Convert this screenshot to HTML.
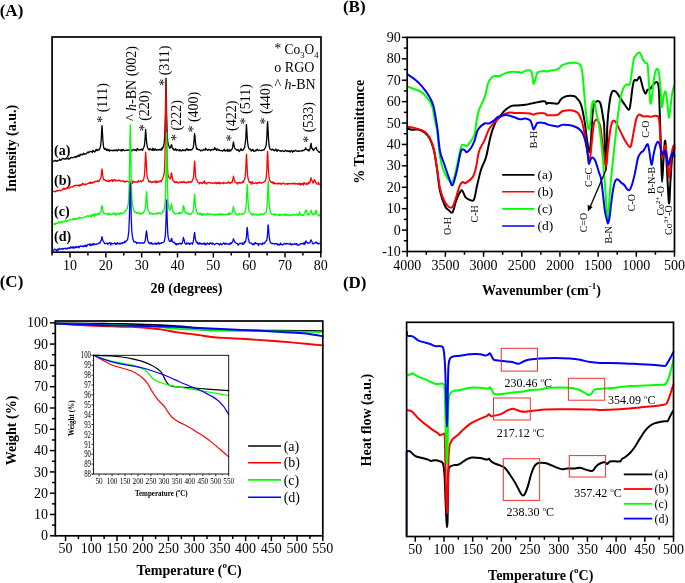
<!DOCTYPE html>
<html><head><meta charset="utf-8"><style>
html,body{margin:0;padding:0;background:#fff;width:685px;height:583px;overflow:hidden;font-family:"Liberation Serif", serif;}
svg{display:block;will-change:transform;}
</style></head><body>
<svg width="685" height="583" viewBox="0 0 685 583" font-family="'Liberation Serif', serif">
<rect width="685" height="583" fill="#fff"/>
<text x="-0.30" y="15.60" font-size="17" font-weight="bold" text-anchor="start" fill="#000">(A)</text>
<text x="342.90" y="12.00" font-size="17" font-weight="bold" text-anchor="start" fill="#000">(B)</text>
<text x="-0.30" y="287.30" font-size="17" font-weight="bold" text-anchor="start" fill="#000">(C)</text>
<text x="342.90" y="288.40" font-size="17" font-weight="bold" text-anchor="start" fill="#000">(D)</text>
<polyline points="52.60,161.23 53.20,161.53 53.80,161.01 54.40,160.84 55.00,160.38 55.60,160.65 56.20,161.26 56.80,160.76 57.40,160.98 58.00,160.43 58.60,160.39 59.20,160.15 59.80,159.01 60.40,160.28 61.00,159.97 61.60,159.84 62.20,158.52 62.80,158.39 63.40,158.75 64.00,158.87 64.60,159.19 65.20,158.89 65.80,159.10 66.40,158.35 67.00,158.77 67.60,158.71 68.20,158.02 68.80,159.22 69.40,158.48 70.00,158.72 70.60,157.62 71.20,157.45 71.80,157.56 72.40,157.58 73.00,157.88 73.60,157.56 74.20,157.07 74.80,156.69 75.40,156.75 76.00,157.49 76.60,156.16 77.20,156.53 77.80,156.42 78.40,155.15 79.00,155.78 79.60,156.26 80.20,154.22 80.80,154.94 81.40,154.84 82.00,154.23 82.60,154.74 83.20,154.22 83.80,153.23 84.40,154.28 85.00,153.98 85.60,153.91 86.20,153.97 86.80,153.16 87.40,152.81 88.00,151.81 88.60,152.76 89.20,151.97 89.80,151.95 90.40,151.39 91.00,151.44 91.60,151.56 92.20,152.45 92.80,150.50 93.40,150.69 94.00,151.49 94.60,152.02 95.20,151.40 95.80,149.88 96.40,149.37 97.00,150.75 97.60,149.91 98.20,149.39 98.80,150.12 99.40,149.59 100.00,148.02 100.60,145.79 101.20,140.03 101.65,131.50 101.80,127.85 102.00,125.62 102.35,130.89 102.40,132.06 103.00,141.51 103.60,147.27 104.20,148.79 104.80,149.37 105.40,148.44 106.00,149.43 106.60,150.41 107.20,149.06 107.80,150.02 108.40,150.73 109.00,149.49 109.60,151.12 110.20,150.55 110.80,150.17 111.40,150.44 112.00,150.62 112.60,150.33 113.20,150.89 113.80,149.89 114.40,150.02 115.00,150.82 115.60,150.25 116.20,149.74 116.80,150.74 117.40,151.01 118.00,149.95 118.60,149.42 119.20,150.10 119.80,150.08 120.40,149.98 121.00,150.91 121.60,149.56 122.20,150.80 122.80,149.40 123.40,149.65 124.00,150.42 124.60,150.68 125.20,150.51 125.80,150.22 126.40,150.09 127.00,150.08 127.60,150.30 128.20,149.87 128.80,150.10 129.40,150.25 130.00,149.92 130.60,150.34 131.20,150.23 131.80,151.02 132.40,150.09 133.00,149.68 133.60,149.70 134.20,149.90 134.80,150.40 135.40,149.70 136.00,150.09 136.60,150.88 137.20,148.44 137.80,149.22 138.40,149.94 139.00,150.00 139.60,149.87 140.20,149.44 140.80,149.96 141.40,149.64 142.00,149.03 142.60,150.38 143.20,148.77 143.80,147.36 144.40,145.55 145.00,140.12 145.35,134.36 145.60,129.38 145.70,130.49 146.05,134.12 146.20,137.63 146.80,143.72 147.40,147.12 148.00,148.85 148.60,149.38 149.20,150.05 149.80,148.48 150.40,149.35 151.00,149.44 151.60,150.03 152.20,150.32 152.80,148.27 153.40,150.36 154.00,148.97 154.60,150.15 155.20,148.94 155.80,149.85 156.40,150.39 157.00,149.62 157.60,149.77 158.20,150.05 158.80,149.62 159.40,149.41 160.00,150.18 160.60,149.76 161.20,148.79 161.80,150.13 162.40,147.49 163.00,147.80 163.60,145.68 164.20,142.93 164.80,136.04 165.40,114.16 165.65,96.67 166.00,78.03 166.35,95.46 166.60,113.18 167.20,135.92 167.80,142.20 168.40,145.05 169.00,146.14 169.60,148.21 170.20,147.88 170.80,147.30 171.15,144.89 171.40,144.84 171.50,144.80 171.85,145.00 172.00,146.62 172.60,148.88 173.20,148.35 173.80,150.11 174.40,150.02 175.00,149.52 175.60,148.63 176.20,150.56 176.80,149.79 177.40,149.56 178.00,150.14 178.60,150.18 179.20,150.80 179.80,149.43 180.40,150.63 181.00,150.84 181.60,150.83 182.20,149.94 182.80,149.64 183.40,150.61 184.00,150.12 184.60,150.13 185.20,150.84 185.80,149.91 186.40,148.78 187.00,149.82 187.60,148.99 188.20,150.44 188.80,150.13 189.40,149.56 190.00,149.82 190.60,150.17 191.20,149.58 191.80,149.97 192.40,148.67 193.00,148.14 193.60,145.62 194.20,138.68 194.25,136.66 194.60,133.73 194.80,135.46 194.95,136.00 195.40,142.48 196.00,145.86 196.60,149.03 197.20,148.45 197.80,149.48 198.40,149.60 199.00,149.82 199.60,149.60 200.20,150.12 200.80,151.02 201.40,150.08 202.00,150.37 202.60,150.63 203.20,149.95 203.80,149.32 204.40,149.60 205.00,150.22 205.60,148.12 205.65,148.64 206.00,148.73 206.20,149.38 206.35,149.41 206.80,149.50 207.40,150.32 208.00,150.13 208.60,149.47 209.20,149.31 209.80,149.84 210.40,150.71 211.00,149.89 211.60,149.70 212.20,149.74 212.80,149.27 213.40,149.93 214.00,149.07 214.60,149.31 214.65,147.75 215.00,148.81 215.20,149.08 215.35,148.70 215.80,148.50 216.40,150.35 217.00,149.96 217.60,148.97 218.20,149.76 218.80,150.42 219.40,150.03 220.00,150.72 220.60,150.71 221.20,150.67 221.80,150.49 222.40,151.05 223.00,150.68 223.60,150.56 224.20,149.17 224.80,150.80 225.40,151.02 226.00,150.13 226.60,150.03 227.20,151.34 227.80,149.28 228.40,150.47 229.00,151.51 229.60,149.60 230.20,150.39 230.80,150.88 231.40,149.46 232.00,149.16 232.60,147.66 233.15,143.07 233.20,143.14 233.50,141.86 233.80,143.34 233.85,144.02 234.40,147.13 235.00,148.72 235.60,148.93 236.20,149.60 236.80,150.44 237.40,150.09 238.00,149.61 238.60,149.64 239.20,151.57 239.80,150.71 240.40,150.39 241.00,148.56 241.60,150.23 242.20,150.02 242.80,150.46 243.40,149.42 244.00,148.52 244.60,147.64 245.20,143.55 245.80,138.04 246.15,129.85 246.40,124.61 246.50,124.47 246.85,130.40 247.00,134.26 247.60,142.22 248.20,146.35 248.80,148.44 249.40,149.16 250.00,149.27 250.60,149.22 251.20,151.10 251.80,150.62 252.40,149.48 253.00,149.46 253.60,151.18 254.20,150.82 254.80,151.31 255.40,150.77 256.00,149.86 256.60,150.49 257.20,149.16 257.80,149.94 258.40,150.31 259.00,150.62 259.60,149.92 260.20,150.22 260.80,150.50 261.40,150.41 262.00,150.48 262.60,150.14 263.20,149.69 263.80,150.08 264.40,149.31 265.00,148.20 265.60,147.11 266.20,144.82 266.80,137.99 267.25,127.52 267.40,123.82 267.60,121.64 267.95,127.54 268.00,128.70 268.60,140.42 269.20,146.22 269.80,148.57 270.40,149.19 271.00,149.38 271.60,150.05 272.20,149.49 272.80,149.12 273.40,150.30 274.00,149.83 274.60,150.81 275.20,149.86 275.80,149.05 276.40,149.95 277.00,151.42 277.60,150.36 278.20,149.84 278.80,150.19 279.40,150.91 280.00,150.91 280.60,150.75 281.20,151.48 281.80,151.06 282.40,150.67 283.00,151.02 283.60,151.61 284.20,151.24 284.80,151.28 285.40,150.13 286.00,150.65 286.60,151.14 287.20,150.58 287.80,151.33 288.40,151.08 289.00,151.26 289.60,150.64 290.20,152.17 290.80,151.45 291.40,150.66 292.00,150.83 292.60,152.21 293.20,150.60 293.80,151.27 294.40,151.33 295.00,150.80 295.60,150.16 296.20,150.90 296.80,151.00 297.40,151.42 298.00,151.23 298.60,150.81 299.20,151.27 299.80,151.09 300.40,150.90 301.00,150.81 301.60,150.63 302.20,151.12 302.80,150.12 303.40,150.30 304.00,150.54 304.60,149.50 305.20,149.54 305.65,147.98 305.80,148.50 306.00,148.75 306.35,149.37 306.40,149.44 307.00,149.87 307.60,150.08 308.20,149.47 308.80,151.10 309.40,149.94 310.00,149.10 310.60,145.05 310.65,145.11 311.00,143.82 311.20,143.34 311.35,145.64 311.80,148.28 312.40,148.34 313.00,149.94 313.60,150.51 314.20,149.16 314.80,148.79 315.40,148.28 315.65,147.94 316.00,147.83 316.35,147.56 316.60,148.96 317.20,150.10 317.80,150.76 318.40,151.27 319.00,152.22 319.60,152.50 320.20,151.58" fill="none" stroke="#000000" stroke-width="1.3" stroke-linejoin="round" stroke-linecap="round"/>
<polyline points="52.60,191.88 53.20,191.43 53.80,191.29 54.40,191.69 55.00,191.60 55.60,191.73 56.20,190.45 56.80,190.51 57.40,191.04 58.00,190.80 58.60,190.60 59.20,190.60 59.80,190.08 60.40,190.74 61.00,190.41 61.60,190.03 62.20,189.56 62.80,189.65 63.40,188.06 64.00,188.83 64.60,189.21 65.20,188.18 65.80,188.93 66.40,188.71 67.00,187.69 67.60,188.13 68.20,187.91 68.80,188.15 69.40,188.05 70.00,187.50 70.60,186.87 71.20,187.07 71.80,186.93 72.40,187.19 73.00,186.76 73.60,186.02 74.20,185.48 74.80,185.84 75.40,185.49 76.00,185.16 76.60,185.58 77.20,185.25 77.80,185.45 78.40,185.56 79.00,184.92 79.60,186.30 80.20,184.72 80.80,185.37 81.40,184.71 82.00,185.13 82.60,183.08 83.20,183.85 83.80,184.27 84.40,184.34 85.00,185.17 85.60,183.94 86.20,184.33 86.80,183.93 87.40,183.90 88.00,183.53 88.60,183.03 89.20,183.27 89.80,182.27 90.40,183.38 91.00,182.04 91.60,182.61 92.20,183.51 92.80,182.08 93.40,182.08 94.00,182.57 94.60,181.81 95.20,181.21 95.80,181.64 96.40,181.66 97.00,181.56 97.60,180.55 98.20,181.72 98.80,181.39 99.40,180.17 100.00,179.79 100.60,178.30 101.20,176.49 101.65,170.91 101.80,170.17 102.00,168.89 102.35,171.01 102.40,171.45 103.00,177.30 103.60,179.64 104.20,179.71 104.80,179.72 105.40,180.74 106.00,180.37 106.60,180.64 107.20,181.34 107.80,181.15 108.40,180.25 109.00,181.80 109.60,180.54 110.20,180.97 110.80,180.17 111.40,180.49 112.00,179.54 112.60,181.48 113.20,181.23 113.80,179.80 114.40,179.62 115.00,179.54 115.60,181.14 116.20,180.30 116.80,180.58 117.40,180.50 118.00,180.67 118.60,180.20 119.20,180.87 119.80,180.13 120.40,180.94 121.00,181.21 121.60,181.35 122.20,181.03 122.80,180.72 123.40,181.36 124.00,181.06 124.60,182.25 125.20,181.87 125.80,181.44 126.40,181.30 127.00,181.23 127.60,181.16 128.20,181.54 128.80,181.95 129.40,182.13 130.00,182.21 130.60,183.06 131.20,181.52 131.80,181.92 132.40,183.45 133.00,180.89 133.60,181.63 134.20,182.00 134.80,181.99 135.40,182.13 136.00,181.76 136.60,182.08 137.20,181.89 137.80,182.26 138.40,180.77 139.00,181.28 139.60,181.70 140.20,181.06 140.80,180.94 141.40,181.69 142.00,180.73 142.60,181.02 143.20,180.37 143.80,178.73 144.40,175.69 145.00,167.10 145.35,157.38 145.60,152.74 145.70,152.16 146.05,158.41 146.20,162.01 146.80,173.47 147.40,178.23 148.00,179.15 148.60,180.88 149.20,182.05 149.80,181.02 150.40,181.61 151.00,181.58 151.60,182.60 152.20,181.99 152.80,182.36 153.40,181.52 154.00,181.91 154.60,181.93 155.20,180.95 155.80,182.71 156.40,182.40 157.00,180.91 157.60,182.24 158.20,181.70 158.80,181.93 159.40,181.78 160.00,180.60 160.60,181.09 161.20,181.72 161.80,180.14 162.40,179.22 163.00,177.93 163.60,176.03 164.20,172.89 164.80,163.93 165.40,134.12 165.65,110.14 166.00,85.37 166.35,111.21 166.60,133.55 167.20,162.53 167.80,172.82 168.40,176.71 169.00,177.63 169.60,178.26 170.20,178.86 170.80,176.95 171.15,173.74 171.40,172.93 171.50,172.92 171.85,174.45 172.00,176.23 172.60,179.26 173.20,180.63 173.80,181.09 174.40,182.20 175.00,182.60 175.60,181.77 176.20,182.54 176.80,181.74 177.40,182.26 178.00,182.68 178.60,183.14 179.20,182.13 179.80,182.33 180.40,182.51 181.00,181.60 181.60,182.45 182.20,182.08 182.80,182.67 183.40,181.85 184.00,181.39 184.60,182.50 185.20,182.63 185.80,182.18 186.40,182.96 187.00,182.31 187.60,182.10 188.20,182.67 188.80,181.50 189.40,181.93 190.00,182.19 190.60,182.53 191.20,181.75 191.80,181.62 192.40,180.39 193.00,179.45 193.60,176.59 194.20,166.17 194.25,166.85 194.60,161.26 194.80,162.53 194.95,165.57 195.40,173.54 196.00,179.04 196.60,179.75 197.20,180.18 197.80,182.15 198.40,182.53 199.00,182.62 199.60,183.85 200.20,182.60 200.80,182.70 201.40,183.12 202.00,182.85 202.60,183.60 203.20,182.03 203.80,182.53 204.40,180.86 205.00,183.22 205.60,182.59 206.20,183.32 206.80,184.01 207.40,182.83 208.00,182.70 208.60,182.58 209.20,182.40 209.80,182.53 210.40,183.23 211.00,182.91 211.60,182.94 212.20,182.81 212.80,183.42 213.40,183.19 214.00,182.85 214.60,183.30 215.20,182.86 215.80,182.31 216.40,183.75 217.00,183.21 217.60,182.44 218.20,183.56 218.80,183.16 219.40,182.12 220.00,183.87 220.60,183.17 221.20,183.48 221.80,183.10 222.40,182.91 223.00,182.15 223.60,183.53 224.20,183.01 224.80,182.84 225.40,183.19 226.00,183.03 226.60,183.36 227.20,182.77 227.80,182.94 228.40,181.76 229.00,182.67 229.60,183.22 230.20,183.51 230.80,182.43 231.40,182.31 232.00,182.69 232.60,180.26 233.15,177.88 233.20,178.08 233.50,176.07 233.80,177.18 233.85,178.15 234.40,180.04 235.00,181.93 235.60,182.31 236.20,182.67 236.80,183.36 237.40,184.12 238.00,182.47 238.60,182.53 239.20,183.11 239.80,182.23 240.40,183.04 241.00,183.01 241.60,182.44 242.20,182.73 242.80,181.34 243.40,182.22 244.00,180.26 244.60,179.37 245.20,176.40 245.80,168.52 246.15,160.51 246.40,154.87 246.50,154.24 246.85,159.83 247.00,164.34 247.60,175.76 248.20,179.06 248.80,181.00 249.40,182.35 250.00,182.30 250.60,181.74 251.20,184.01 251.80,183.99 252.40,181.78 253.00,182.92 253.60,183.23 254.20,183.57 254.80,183.44 255.40,182.94 256.00,182.53 256.60,183.18 257.20,183.70 257.80,182.53 258.40,182.56 259.00,183.10 259.60,182.03 260.20,182.92 260.80,182.79 261.40,183.22 262.00,182.50 262.60,182.29 263.20,182.40 263.80,182.33 264.40,181.59 265.00,181.27 265.60,180.36 266.20,177.70 266.80,170.52 267.25,157.43 267.40,153.65 267.60,151.46 267.95,156.50 268.00,160.39 268.60,172.55 269.20,178.32 269.80,180.84 270.40,180.87 271.00,182.46 271.60,182.55 272.20,181.79 272.80,183.12 273.40,183.73 274.00,182.13 274.60,183.67 275.20,183.40 275.80,183.59 276.40,183.61 277.00,184.11 277.60,183.30 278.20,183.92 278.80,183.24 279.40,183.88 280.00,183.05 280.60,183.45 281.20,184.48 281.80,183.79 282.40,183.47 283.00,182.93 283.60,183.14 284.20,183.69 284.80,184.11 285.40,183.84 286.00,183.90 286.60,183.60 287.20,184.37 287.80,183.42 288.40,183.34 289.00,184.14 289.60,183.69 290.20,183.51 290.80,183.36 291.40,183.54 292.00,184.03 292.60,183.89 293.20,183.03 293.80,183.94 294.40,183.81 295.00,183.17 295.60,184.15 296.20,183.57 296.80,183.55 297.40,184.18 298.00,184.47 298.60,183.37 299.20,183.99 299.80,183.27 300.40,185.03 301.00,183.49 301.60,184.42 302.20,183.40 302.80,184.21 303.40,184.98 304.00,182.35 304.60,183.51 305.20,184.01 305.80,183.66 306.40,183.32 307.00,184.83 307.60,183.63 308.20,182.57 308.80,183.74 309.40,181.90 310.00,182.46 310.60,178.93 310.65,179.05 311.00,177.75 311.20,178.88 311.35,178.98 311.80,180.29 312.40,181.38 313.00,183.20 313.60,182.42 314.15,180.00 314.20,180.75 314.50,179.70 314.80,180.63 314.85,180.90 315.40,181.05 316.00,182.95 316.60,183.96 317.20,184.04 317.80,184.22 318.40,182.44 319.00,183.93 319.60,184.14 320.20,185.30" fill="none" stroke="#ff0000" stroke-width="1.3" stroke-linejoin="round" stroke-linecap="round"/>
<polyline points="52.60,223.81 53.20,224.00 53.80,224.05 54.40,224.37 55.00,223.49 55.60,224.21 56.20,223.00 56.80,223.43 57.40,222.84 58.00,223.07 58.60,222.45 59.20,221.80 59.80,223.13 60.40,222.55 61.00,221.92 61.60,222.19 62.20,222.48 62.80,221.26 63.40,221.60 64.00,221.81 64.60,221.67 65.20,221.06 65.80,219.94 66.40,221.65 67.00,221.00 67.60,220.69 68.20,220.39 68.80,220.55 69.40,220.03 70.00,219.56 70.60,219.58 71.20,219.52 71.80,219.37 72.40,218.94 73.00,219.78 73.60,218.57 74.20,219.52 74.80,218.46 75.40,219.09 76.00,219.53 76.60,218.77 77.20,218.14 77.80,218.45 78.40,218.39 79.00,217.24 79.60,217.75 80.20,218.05 80.80,217.59 81.40,217.77 82.00,218.02 82.60,217.92 83.20,217.88 83.80,217.59 84.40,216.99 85.00,217.02 85.60,216.76 86.20,216.62 86.80,216.58 87.40,215.61 88.00,216.26 88.60,216.31 89.20,215.67 89.80,216.07 90.40,216.25 91.00,215.76 91.60,216.87 92.20,214.17 92.80,215.37 93.40,214.36 94.00,215.78 94.60,216.57 95.20,213.60 95.80,214.91 96.40,214.99 97.00,214.39 97.60,214.69 98.20,212.97 98.80,214.45 99.40,213.88 100.00,213.21 100.60,212.10 101.20,210.78 101.65,207.04 101.80,206.37 102.00,205.61 102.35,207.02 102.40,206.46 103.00,211.28 103.60,212.83 104.20,213.71 104.80,213.09 105.40,213.70 106.00,214.14 106.60,213.93 107.20,214.57 107.80,215.00 108.40,213.42 109.00,212.87 109.60,214.40 110.20,214.77 110.80,214.43 111.40,214.36 112.00,213.56 112.60,213.50 113.20,214.37 113.80,213.37 114.40,212.86 115.00,213.29 115.60,215.18 116.20,214.85 116.80,213.39 117.40,213.33 118.00,213.83 118.60,213.25 119.20,214.34 119.80,213.52 120.40,212.91 121.00,214.16 121.60,213.03 122.20,213.37 122.80,213.11 123.40,212.78 124.00,212.92 124.60,212.09 125.20,211.08 125.80,210.35 126.40,210.09 127.00,209.17 127.60,207.56 128.20,203.91 128.80,196.44 129.40,177.52 129.95,140.40 130.00,136.81 130.30,124.92 130.60,136.03 130.65,140.74 131.20,177.71 131.80,196.40 132.40,203.77 133.00,207.43 133.60,210.04 134.20,210.72 134.80,211.88 135.40,212.30 136.00,212.46 136.60,213.32 137.20,212.47 137.80,212.73 138.40,212.58 139.00,212.66 139.60,214.00 140.20,214.13 140.80,213.17 141.40,213.44 142.00,213.70 142.60,213.36 143.20,213.35 143.80,211.57 144.40,211.12 145.00,210.00 145.60,206.20 146.15,196.17 146.20,194.65 146.50,191.72 146.80,194.94 146.85,195.76 147.40,204.97 148.00,210.63 148.60,211.20 149.20,212.37 149.80,213.98 150.40,213.71 151.00,213.40 151.60,212.99 152.20,213.63 152.80,214.34 153.40,213.83 154.00,214.20 154.60,213.57 155.20,213.81 155.80,213.41 156.40,213.74 157.00,214.19 157.60,212.66 158.20,213.37 158.80,213.48 159.40,212.95 160.00,213.00 160.60,213.47 161.20,213.96 161.80,212.95 162.40,212.42 163.00,210.82 163.60,211.80 164.20,209.13 164.80,205.73 165.40,197.02 166.00,173.29 166.25,152.77 166.60,132.79 166.95,153.38 167.20,173.51 167.80,197.50 168.40,205.63 169.00,208.14 169.60,210.65 170.20,209.54 170.80,207.13 171.15,205.72 171.40,204.01 171.50,204.31 171.85,205.61 172.00,207.20 172.60,210.92 173.20,211.47 173.80,212.66 174.40,213.86 175.00,213.65 175.60,213.33 176.20,213.58 176.80,213.51 177.40,213.59 178.00,214.05 178.60,213.60 179.20,212.32 179.80,213.59 180.40,213.02 181.00,213.70 181.60,212.65 182.20,212.24 182.80,211.16 183.15,206.99 183.40,205.52 183.50,205.98 183.85,206.80 184.00,207.37 184.60,210.65 185.20,213.03 185.80,212.95 186.40,212.51 187.00,212.84 187.60,214.06 188.20,213.32 188.80,213.54 189.40,213.89 190.00,214.39 190.60,214.59 191.20,213.89 191.80,213.06 192.40,212.43 193.00,211.96 193.60,208.41 194.20,198.96 194.25,198.46 194.60,194.22 194.80,195.89 194.95,198.25 195.40,205.28 196.00,209.51 196.60,211.78 197.20,212.06 197.80,214.03 198.40,213.92 199.00,213.13 199.60,214.68 200.20,214.48 200.80,213.01 201.40,215.12 202.00,214.59 202.60,215.31 203.20,213.53 203.80,214.52 204.40,214.48 205.00,214.38 205.60,214.38 206.20,214.88 206.80,213.49 207.40,213.64 208.00,213.57 208.60,214.04 209.20,214.02 209.80,214.57 210.40,214.52 211.00,214.40 211.60,214.02 212.20,214.15 212.80,214.93 213.40,214.83 214.00,214.47 214.60,214.25 215.20,215.28 215.80,214.11 216.40,214.80 217.00,215.08 217.60,214.31 218.20,214.91 218.80,213.85 219.40,215.02 220.00,214.58 220.60,213.60 221.20,214.84 221.80,213.98 222.40,215.18 223.00,214.10 223.60,214.39 224.20,214.63 224.80,214.29 225.40,214.61 226.00,214.15 226.60,214.81 227.20,214.43 227.80,214.52 228.40,212.85 229.00,214.96 229.60,214.26 230.20,213.14 230.80,213.98 231.40,213.82 232.00,213.39 232.60,210.45 233.15,208.71 233.20,207.47 233.50,206.57 233.80,208.88 233.85,207.78 234.40,211.41 235.00,212.59 235.60,212.93 236.20,214.51 236.80,214.60 237.40,215.06 238.00,214.75 238.60,213.99 239.20,213.41 239.80,213.96 240.40,213.92 241.00,213.80 241.60,214.50 242.20,214.26 242.80,213.78 243.40,213.79 244.00,213.24 244.60,212.79 245.20,211.85 245.80,209.25 246.40,201.34 246.85,189.90 247.00,187.78 247.20,184.74 247.55,190.80 247.60,192.73 248.20,203.97 248.80,209.75 249.40,212.01 250.00,212.20 250.60,213.26 251.20,214.27 251.80,214.68 252.40,215.11 253.00,213.86 253.60,213.65 254.20,214.76 254.80,215.03 255.40,214.66 256.00,213.86 256.60,215.02 257.20,215.04 257.80,214.91 258.40,214.34 259.00,214.77 259.60,215.03 260.20,214.26 260.80,213.53 261.40,214.68 262.00,214.70 262.60,214.36 263.20,214.72 263.80,213.74 264.40,213.75 265.00,213.20 265.60,212.94 266.20,212.10 266.80,208.00 267.40,201.34 267.85,188.60 268.00,183.96 268.20,180.96 268.55,188.09 268.60,190.31 269.20,203.69 269.80,209.46 270.40,211.28 271.00,213.25 271.60,214.36 272.20,214.29 272.80,214.48 273.40,214.31 274.00,214.63 274.60,213.85 275.20,215.28 275.80,214.54 276.40,214.20 277.00,214.43 277.60,214.42 278.20,215.38 278.80,215.51 279.40,214.20 280.00,215.48 280.60,215.47 281.20,214.68 281.80,214.20 282.40,214.62 283.00,214.69 283.60,215.24 284.20,214.86 284.80,213.95 285.40,215.21 286.00,214.24 286.60,215.59 287.20,214.44 287.80,214.73 288.40,214.65 289.00,214.82 289.60,215.84 290.20,215.60 290.80,215.47 291.40,215.32 292.00,214.29 292.60,214.86 293.20,214.84 293.80,214.61 294.40,215.42 295.00,214.73 295.60,214.73 296.20,214.53 296.80,213.94 297.40,215.34 298.00,215.64 298.60,214.78 299.20,213.64 299.65,212.00 299.80,213.38 300.00,213.16 300.35,214.14 300.40,213.71 301.00,214.85 301.60,215.50 302.20,215.42 302.80,214.56 303.40,215.29 304.00,214.90 304.60,213.10 305.20,212.45 305.65,210.19 305.80,210.40 306.00,210.16 306.35,211.26 306.40,210.55 307.00,212.02 307.60,214.75 308.20,214.54 308.80,215.15 309.40,213.30 310.00,213.73 310.60,212.27 310.65,212.04 311.00,210.14 311.20,210.32 311.35,211.09 311.80,212.54 312.40,214.41 313.00,214.89 313.60,214.48 314.20,213.51 314.80,214.05 315.40,211.78 315.65,211.41 316.00,210.29 316.35,211.25 316.60,213.01 317.20,214.43 317.80,214.30 318.40,215.08 319.00,216.04 319.60,214.89 320.20,215.49" fill="none" stroke="#00ff00" stroke-width="1.3" stroke-linejoin="round" stroke-linecap="round"/>
<polyline points="52.60,250.77 53.20,250.74 53.80,250.26 54.40,249.17 55.00,249.13 55.60,249.89 56.20,249.90 56.80,251.01 57.40,249.07 58.00,250.09 58.60,249.82 59.20,248.40 59.80,248.80 60.40,249.27 61.00,248.83 61.60,248.95 62.20,249.21 62.80,248.42 63.40,249.03 64.00,248.33 64.60,248.28 65.20,248.79 65.80,248.08 66.40,248.46 67.00,249.09 67.60,248.14 68.20,247.95 68.80,248.34 69.40,247.64 70.00,248.35 70.60,246.95 71.20,247.91 71.80,247.19 72.40,246.94 73.00,248.26 73.60,246.73 74.20,248.07 74.80,247.37 75.40,247.73 76.00,246.31 76.60,247.43 77.20,247.49 77.80,246.55 78.40,246.47 79.00,247.81 79.60,246.48 80.20,246.07 80.80,245.88 81.40,246.40 82.00,246.25 82.60,246.09 83.20,246.86 83.80,245.66 84.40,246.02 85.00,246.49 85.60,245.05 86.20,246.10 86.80,246.46 87.40,244.62 88.00,244.69 88.60,244.64 89.20,244.12 89.80,245.30 90.40,243.95 91.00,245.17 91.60,245.61 92.20,243.84 92.80,244.47 93.40,243.51 94.00,244.91 94.60,243.98 95.20,244.16 95.80,244.24 96.40,244.41 97.00,243.81 97.60,243.90 98.20,243.45 98.80,243.65 99.40,242.71 100.00,243.02 100.60,241.29 101.20,240.45 101.65,239.21 101.80,237.33 102.00,236.75 102.35,237.46 102.40,238.62 103.00,240.92 103.60,241.73 104.20,242.71 104.80,243.75 105.40,243.69 106.00,243.50 106.60,243.10 107.20,243.05 107.80,244.40 108.40,243.81 109.00,243.17 109.60,242.54 110.20,242.95 110.80,245.07 111.40,243.08 112.00,243.67 112.60,243.83 113.20,243.63 113.80,243.56 114.40,242.95 115.00,243.12 115.60,244.62 116.20,243.26 116.80,244.13 117.40,242.72 118.00,243.48 118.60,243.75 119.20,244.15 119.80,242.93 120.40,243.84 121.00,243.68 121.60,243.00 122.20,243.59 122.80,242.74 123.40,242.68 124.00,242.96 124.60,241.27 125.20,242.42 125.80,241.53 126.40,240.69 127.00,240.35 127.60,239.48 128.20,236.06 128.80,231.25 129.40,216.61 129.95,192.45 130.00,191.77 130.30,183.45 130.60,191.13 130.65,193.69 131.20,216.79 131.80,230.99 132.40,236.42 133.00,239.41 133.60,240.59 134.20,242.15 134.80,241.72 135.40,241.94 136.00,241.93 136.60,243.58 137.20,242.69 137.80,242.63 138.40,242.77 139.00,243.10 139.60,242.69 140.20,243.25 140.80,243.07 141.40,243.10 142.00,242.84 142.60,243.32 143.20,242.91 143.80,242.99 144.40,242.59 145.00,241.63 145.60,237.68 146.15,233.10 146.20,232.37 146.50,230.79 146.80,233.24 146.85,232.53 147.40,238.51 148.00,241.32 148.60,242.33 149.20,243.54 149.80,243.02 150.40,243.94 151.00,242.71 151.60,242.58 152.20,244.29 152.80,243.89 153.40,243.94 154.00,243.75 154.60,243.96 155.20,243.02 155.80,244.21 156.40,243.39 157.00,244.21 157.60,243.69 158.20,242.53 158.80,242.87 159.40,244.15 160.00,243.39 160.60,243.17 161.20,243.40 161.80,242.87 162.40,242.57 163.00,242.56 163.60,242.00 164.20,241.71 164.80,238.83 165.40,234.93 166.00,221.09 166.25,210.69 166.60,199.84 166.95,210.30 167.20,220.13 167.80,233.87 168.40,238.56 169.00,240.20 169.60,241.39 170.20,241.18 170.80,241.56 171.15,239.75 171.40,238.48 171.50,238.67 171.85,238.61 172.00,240.29 172.60,241.89 173.20,242.25 173.80,242.56 174.40,242.13 175.00,243.79 175.60,243.51 176.20,245.02 176.80,243.62 177.40,243.57 178.00,244.46 178.60,243.73 179.20,243.73 179.80,243.40 180.40,243.20 181.00,244.22 181.60,243.67 182.20,243.44 182.80,240.65 183.15,239.07 183.40,237.49 183.50,237.85 183.85,239.58 184.00,239.11 184.60,242.43 185.20,243.58 185.80,244.11 186.40,242.99 187.00,244.20 187.60,243.25 188.20,243.25 188.80,242.94 189.40,244.28 190.00,244.52 190.60,243.21 191.20,243.01 191.80,243.04 192.40,244.23 193.00,242.62 193.60,239.84 194.20,234.27 194.25,234.36 194.60,232.43 194.80,233.95 194.95,235.76 195.40,238.80 196.00,241.26 196.60,242.40 197.20,242.13 197.80,243.92 198.40,242.97 199.00,244.25 199.60,242.79 200.20,243.07 200.80,243.97 201.40,243.41 202.00,244.28 202.60,243.87 203.20,243.23 203.80,244.23 204.40,244.36 205.00,242.85 205.60,244.92 206.20,244.19 206.80,244.34 207.40,242.90 208.00,243.53 208.60,243.74 209.20,244.53 209.80,243.13 210.40,243.45 211.00,242.82 211.60,243.81 212.20,244.13 212.80,243.01 213.40,243.62 214.00,244.22 214.60,244.82 215.20,244.31 215.80,243.78 216.40,243.30 217.00,243.43 217.60,243.58 218.20,244.02 218.80,243.91 219.40,244.86 220.00,244.10 220.60,243.35 221.20,244.78 221.80,244.45 222.40,243.98 223.00,243.53 223.60,242.89 224.20,243.35 224.80,244.41 225.40,243.46 226.00,243.16 226.60,243.98 227.20,243.99 227.80,244.17 228.40,244.16 229.00,244.53 229.60,243.24 230.20,244.14 230.80,242.90 231.40,243.55 232.00,242.72 232.60,241.57 233.15,240.13 233.20,239.43 233.50,238.93 233.80,240.04 233.85,240.07 234.40,241.50 235.00,242.29 235.60,242.73 236.20,243.12 236.80,243.44 237.40,243.63 238.00,245.33 238.60,244.07 239.20,244.15 239.80,243.26 240.40,243.33 241.00,243.52 241.60,243.77 242.20,243.03 242.80,244.41 243.40,243.08 244.00,243.78 244.60,241.54 245.20,242.14 245.80,240.80 246.40,236.90 246.85,231.08 247.00,228.85 247.20,227.45 247.55,230.84 247.60,230.47 248.20,238.13 248.80,240.01 249.40,242.78 250.00,243.15 250.60,243.17 251.20,243.00 251.80,243.25 252.40,244.66 253.00,244.65 253.60,243.71 254.20,244.48 254.80,242.92 255.40,242.74 256.00,243.55 256.60,243.34 257.20,243.52 257.80,243.93 258.40,245.49 259.00,243.45 259.60,243.83 260.20,243.94 260.80,243.75 261.40,244.26 262.00,244.69 262.60,242.98 263.20,243.68 263.80,243.34 264.40,243.53 265.00,242.25 265.60,241.71 266.20,240.62 266.80,240.45 267.40,235.83 267.85,228.81 268.00,225.10 268.20,224.97 268.55,228.56 268.60,229.23 269.20,236.94 269.80,240.42 270.40,242.61 271.00,243.15 271.60,243.19 272.20,243.69 272.80,243.21 273.40,243.68 274.00,243.73 274.60,244.06 275.20,243.75 275.80,243.74 276.40,243.77 277.00,243.50 277.60,245.10 278.20,244.17 278.80,244.13 279.40,245.17 280.00,244.68 280.60,243.06 281.20,244.31 281.80,244.39 282.40,244.97 283.00,244.66 283.60,244.36 284.20,243.30 284.80,243.47 285.40,244.10 286.00,244.23 286.60,243.39 287.20,243.74 287.80,243.73 288.40,243.99 289.00,244.14 289.60,243.80 290.20,243.28 290.80,244.64 291.40,244.83 292.00,243.90 292.60,244.52 293.20,244.20 293.80,244.32 294.40,244.22 295.00,243.53 295.60,244.26 296.20,244.50 296.80,243.45 297.40,245.02 298.00,245.08 298.60,244.93 299.20,245.01 299.80,244.32 300.40,243.71 301.00,243.55 301.60,243.41 302.20,243.88 302.80,243.75 303.40,244.04 304.00,242.40 304.60,244.45 305.20,243.65 305.65,241.35 305.80,241.43 306.00,240.87 306.35,241.60 306.40,241.61 307.00,242.53 307.60,243.09 308.20,242.86 308.80,243.37 309.40,242.99 310.00,242.45 310.60,240.19 310.65,240.52 311.00,239.86 311.20,240.13 311.35,240.84 311.80,241.28 312.40,243.10 313.00,243.81 313.60,243.74 314.20,243.19 314.80,242.91 315.40,242.43 315.65,242.58 316.00,241.87 316.35,243.06 316.60,242.53 317.20,242.94 317.80,243.80 318.40,243.85 319.00,243.31 319.60,243.45 320.20,243.83" fill="none" stroke="#0000ff" stroke-width="1.3" stroke-linejoin="round" stroke-linecap="round"/>
<rect x="52.10" y="37.00" width="268.90" height="215.20" fill="none" stroke="#000" stroke-width="1.7"/>
<line x1="52.10" y1="252.20" x2="52.10" y2="255.50" stroke="#000" stroke-width="1.5" stroke-linecap="butt"/>
<line x1="70.02" y1="252.20" x2="70.02" y2="257.50" stroke="#000" stroke-width="1.5" stroke-linecap="butt"/>
<text x="70.02" y="270.00" font-size="14" text-anchor="middle" fill="#000">10</text>
<line x1="87.93" y1="252.20" x2="87.93" y2="255.50" stroke="#000" stroke-width="1.5" stroke-linecap="butt"/>
<line x1="105.84" y1="252.20" x2="105.84" y2="257.50" stroke="#000" stroke-width="1.5" stroke-linecap="butt"/>
<text x="105.84" y="270.00" font-size="14" text-anchor="middle" fill="#000">20</text>
<line x1="123.76" y1="252.20" x2="123.76" y2="255.50" stroke="#000" stroke-width="1.5" stroke-linecap="butt"/>
<line x1="141.68" y1="252.20" x2="141.68" y2="257.50" stroke="#000" stroke-width="1.5" stroke-linecap="butt"/>
<text x="141.68" y="270.00" font-size="14" text-anchor="middle" fill="#000">30</text>
<line x1="159.59" y1="252.20" x2="159.59" y2="255.50" stroke="#000" stroke-width="1.5" stroke-linecap="butt"/>
<line x1="177.50" y1="252.20" x2="177.50" y2="257.50" stroke="#000" stroke-width="1.5" stroke-linecap="butt"/>
<text x="177.50" y="270.00" font-size="14" text-anchor="middle" fill="#000">40</text>
<line x1="195.42" y1="252.20" x2="195.42" y2="255.50" stroke="#000" stroke-width="1.5" stroke-linecap="butt"/>
<line x1="213.34" y1="252.20" x2="213.34" y2="257.50" stroke="#000" stroke-width="1.5" stroke-linecap="butt"/>
<text x="213.34" y="270.00" font-size="14" text-anchor="middle" fill="#000">50</text>
<line x1="231.25" y1="252.20" x2="231.25" y2="255.50" stroke="#000" stroke-width="1.5" stroke-linecap="butt"/>
<line x1="249.16" y1="252.20" x2="249.16" y2="257.50" stroke="#000" stroke-width="1.5" stroke-linecap="butt"/>
<text x="249.16" y="270.00" font-size="14" text-anchor="middle" fill="#000">60</text>
<line x1="267.08" y1="252.20" x2="267.08" y2="255.50" stroke="#000" stroke-width="1.5" stroke-linecap="butt"/>
<line x1="285.00" y1="252.20" x2="285.00" y2="257.50" stroke="#000" stroke-width="1.5" stroke-linecap="butt"/>
<text x="285.00" y="270.00" font-size="14" text-anchor="middle" fill="#000">70</text>
<line x1="302.91" y1="252.20" x2="302.91" y2="255.50" stroke="#000" stroke-width="1.5" stroke-linecap="butt"/>
<line x1="320.83" y1="252.20" x2="320.83" y2="257.50" stroke="#000" stroke-width="1.5" stroke-linecap="butt"/>
<text x="320.83" y="270.00" font-size="14" text-anchor="middle" fill="#000">80</text>
<text x="186.50" y="292.80" font-size="14" font-weight="bold" text-anchor="middle" fill="#000">2θ (degrees)</text>
<text x="16.30" y="148.60" font-size="14" font-weight="bold" text-anchor="middle" fill="#000" transform="rotate(-90 16.3 148.6)">Intensity (a.u.)</text>
<text x="54.00" y="154.90" font-size="14" font-weight="bold" text-anchor="start" fill="#000">(a)</text>
<text x="54.00" y="185.00" font-size="14" font-weight="bold" text-anchor="start" fill="#000">(b)</text>
<text x="54.00" y="215.80" font-size="14" font-weight="bold" text-anchor="start" fill="#000">(c)</text>
<text x="54.00" y="241.30" font-size="14" font-weight="bold" text-anchor="start" fill="#000">(d)</text>
<text x="107.40" y="122.80" font-size="14" text-anchor="start" fill="#000" transform="rotate(-90 107.4 122.8)"><tspan dy="0">*</tspan><tspan dy="-0"> (111)</tspan></text>
<text x="135.50" y="121.00" font-size="14" text-anchor="start" fill="#000" transform="rotate(-90 135.5 121.0)">^ <tspan font-style="italic">h</tspan>-BN (002)</text>
<text x="149.30" y="131.30" font-size="14" text-anchor="start" fill="#000" transform="rotate(-90 149.3 131.3)"><tspan dy="0">*</tspan><tspan dy="-0"> (220)</tspan></text>
<text x="169.30" y="85.80" font-size="14" text-anchor="start" fill="#000" transform="rotate(-90 169.3 85.8)"><tspan dy="0">*</tspan><tspan dy="-0"> (311)</tspan></text>
<text x="181.20" y="141.00" font-size="14" text-anchor="start" fill="#000" transform="rotate(-90 181.2 141.0)"><tspan dy="0">*</tspan><tspan dy="-0"> (222)</tspan></text>
<text x="198.40" y="132.60" font-size="14" text-anchor="start" fill="#000" transform="rotate(-90 198.4 132.6)"><tspan dy="0">*</tspan><tspan dy="-0"> (400)</tspan></text>
<text x="236.20" y="141.40" font-size="14" text-anchor="start" fill="#000" transform="rotate(-90 236.2 141.4)"><tspan dy="0">*</tspan><tspan dy="-0"> (422)</tspan></text>
<text x="249.50" y="124.50" font-size="14" text-anchor="start" fill="#000" transform="rotate(-90 249.5 124.5)"><tspan dy="0">*</tspan><tspan dy="-0"> (511)</tspan></text>
<text x="269.70" y="124.50" font-size="14" text-anchor="start" fill="#000" transform="rotate(-90 269.7 124.5)"><tspan dy="0">*</tspan><tspan dy="-0"> (440)</tspan></text>
<text x="313.20" y="142.80" font-size="14" text-anchor="start" fill="#000" transform="rotate(-90 313.2 142.8)"><tspan dy="0">*</tspan><tspan dy="-0"> (533)</tspan></text>
<text x="274.50" y="53.60" font-size="14" text-anchor="start" fill="#000" textLength="44" lengthAdjust="spacingAndGlyphs"><tspan dy="-1">*</tspan><tspan dy="1"> Co</tspan><tspan font-size="9" dy="4.5">3</tspan><tspan dy="-4.5">O</tspan><tspan font-size="9" dy="4.5">4</tspan></text>
<text x="274.30" y="71.70" font-size="14" text-anchor="start" fill="#000">o RGO</text>
<text x="274.50" y="88.80" font-size="14" text-anchor="start" fill="#000">^ <tspan font-style="italic">h</tspan>-BN</text>
<path d="M407.50,128.50 C408.25,128.72 410.25,129.63 412.00,129.80 C413.75,129.97 415.92,129.05 418.00,129.50 C420.08,129.95 422.55,131.00 424.50,132.50 C426.45,134.00 428.15,135.58 429.70,138.50 C431.25,141.42 432.60,145.08 433.80,150.00 C435.00,154.92 435.87,161.17 436.90,168.00 C437.93,174.83 438.65,184.67 440.00,191.00 C441.35,197.33 443.58,202.83 445.00,206.00 C446.42,209.17 447.33,208.87 448.50,210.00 C449.67,211.13 451.08,213.05 452.00,212.80 C452.92,212.55 453.43,210.13 454.00,208.50 C454.57,206.87 454.65,205.25 455.40,203.00 C456.15,200.75 457.47,197.12 458.50,195.00 C459.53,192.88 460.77,190.63 461.60,190.30 C462.43,189.97 462.82,191.82 463.50,193.00 C464.18,194.18 464.62,196.23 465.70,197.40 C466.78,198.57 468.62,199.63 470.00,200.00 C471.38,200.37 472.83,201.93 474.00,199.60 C475.17,197.27 475.83,190.98 477.00,186.00 C478.17,181.02 479.50,174.48 481.00,169.70 C482.50,164.92 484.42,162.80 486.00,157.30 C487.58,151.80 488.92,142.53 490.50,136.70 C492.08,130.87 493.60,126.12 495.50,122.30 C497.40,118.48 500.32,115.80 501.90,113.80 C503.48,111.80 503.65,111.50 505.00,110.30 C506.35,109.10 508.33,107.40 510.00,106.60 C511.67,105.80 512.50,105.80 515.00,105.50 C517.50,105.20 522.50,105.08 525.00,104.80 C527.50,104.52 528.33,104.13 530.00,103.80 C531.67,103.47 533.33,103.15 535.00,102.80 C536.67,102.45 538.33,101.93 540.00,101.70 C541.67,101.47 543.92,101.05 545.00,101.40 C546.08,101.75 546.00,103.52 546.50,103.80 C547.00,104.08 546.58,103.15 548.00,103.10 C549.42,103.05 553.33,103.43 555.00,103.50 C556.67,103.57 557.00,104.22 558.00,103.50 C559.00,102.78 559.83,100.35 561.00,99.20 C562.17,98.05 563.50,97.18 565.00,96.60 C566.50,96.02 568.33,95.75 570.00,95.70 C571.67,95.65 573.67,95.63 575.00,96.30 C576.33,96.97 577.17,98.68 578.00,99.70 C578.83,100.72 579.33,101.03 580.00,102.40 C580.67,103.77 581.42,105.73 582.00,107.90 C582.58,110.07 583.00,112.72 583.50,115.40 C584.00,118.08 584.42,119.90 585.00,124.00 C585.58,128.10 586.28,135.33 587.00,140.00 C587.72,144.67 588.67,151.67 589.30,152.00 C589.93,152.33 590.40,146.00 590.80,142.00 C591.20,138.00 591.43,132.43 591.70,128.00 C591.97,123.57 592.12,118.87 592.40,115.40 C592.68,111.93 593.00,109.30 593.40,107.20 C593.80,105.10 594.10,103.83 594.80,102.80 C595.50,101.77 596.73,101.07 597.60,101.00 C598.47,100.93 599.43,101.60 600.00,102.40 C600.57,103.20 600.67,104.43 601.00,105.80 C601.33,107.17 601.67,108.65 602.00,110.60 C602.33,112.55 602.65,115.10 603.00,117.50 C603.35,119.90 603.77,119.58 604.10,125.00 C604.43,130.42 604.68,142.50 605.00,150.00 C605.32,157.50 605.70,170.00 606.00,170.00 C606.30,170.00 606.60,157.00 606.80,150.00 C607.00,143.00 606.97,134.00 607.20,128.00 C607.43,122.00 607.87,117.80 608.20,114.00 C608.53,110.20 608.87,107.82 609.20,105.20 C609.53,102.58 609.80,100.37 610.20,98.30 C610.60,96.23 611.08,94.07 611.60,92.80 C612.12,91.53 612.67,90.93 613.30,90.70 C613.93,90.47 614.77,91.00 615.40,91.40 C616.03,91.80 616.52,92.33 617.10,93.10 C617.68,93.87 618.08,94.75 618.90,96.00 C619.72,97.25 620.97,99.07 622.00,100.60 C623.03,102.13 623.95,103.65 625.10,105.20 C626.25,106.75 628.00,110.15 628.90,109.90 C629.80,109.65 629.98,106.80 630.50,103.70 C631.02,100.60 631.48,94.90 632.00,91.30 C632.52,87.70 633.08,84.03 633.60,82.10 C634.12,80.17 634.58,79.97 635.10,79.70 C635.62,79.43 635.93,81.00 636.70,80.50 C637.47,80.00 638.98,76.70 639.70,76.70 C640.42,76.70 640.45,78.58 641.00,80.50 C641.55,82.42 642.25,86.02 643.00,88.20 C643.75,90.38 644.75,93.33 645.50,93.60 C646.25,93.87 646.75,90.57 647.50,89.80 C648.25,89.03 649.08,89.78 650.00,89.00 C650.92,88.22 652.00,86.25 653.00,85.10 C654.00,83.95 655.17,82.35 656.00,82.10 C656.83,81.85 657.50,82.07 658.00,83.60 C658.50,85.13 658.70,86.15 659.00,91.30 C659.30,96.45 659.55,107.22 659.80,114.50 C660.05,121.78 660.27,127.42 660.50,135.00 C660.73,142.58 660.93,152.18 661.20,160.00 C661.47,167.82 661.72,181.90 662.10,181.90 C662.48,181.90 662.98,166.85 663.50,160.00 C664.02,153.15 664.62,139.13 665.20,140.80 C665.78,142.47 666.37,159.58 667.00,170.00 C667.63,180.42 668.42,201.63 669.00,203.30 C669.58,204.97 669.93,188.13 670.50,180.00 C671.07,171.87 671.73,159.90 672.40,154.50 C673.07,149.10 674.15,148.75 674.50,147.60" fill="none" stroke="#000000" stroke-width="2.0" stroke-linejoin="round" stroke-linecap="round"/>
<path d="M407.50,126.90 C408.80,127.10 412.47,127.32 415.30,128.10 C418.13,128.88 422.10,129.98 424.50,131.60 C426.90,133.22 428.15,134.88 429.70,137.80 C431.25,140.72 432.60,144.13 433.80,149.10 C435.00,154.07 435.87,161.08 436.90,167.60 C437.93,174.12 438.63,182.43 440.00,188.20 C441.37,193.97 443.17,198.97 445.10,202.20 C447.03,205.43 449.85,208.13 451.60,207.60 C453.35,207.07 454.28,202.58 455.60,199.00 C456.92,195.42 458.33,188.93 459.50,186.10 C460.67,183.27 461.57,182.52 462.60,182.00 C463.63,181.48 463.98,183.85 465.70,183.00 C467.42,182.15 471.18,179.47 472.90,176.90 C474.62,174.33 474.97,171.88 476.00,167.60 C477.03,163.32 477.73,155.65 479.10,151.20 C480.47,146.75 482.48,144.68 484.20,140.90 C485.92,137.12 487.52,131.77 489.40,128.50 C491.28,125.23 493.73,123.18 495.50,121.30 C497.27,119.42 498.42,118.45 500.00,117.20 C501.58,115.95 503.33,114.60 505.00,113.80 C506.67,113.00 508.33,112.53 510.00,112.40 C511.67,112.27 513.33,112.92 515.00,113.00 C516.67,113.08 517.50,112.83 520.00,112.90 C522.50,112.97 527.75,113.10 530.00,113.40 C532.25,113.70 532.33,114.70 533.50,114.70 C534.67,114.70 535.08,113.62 537.00,113.40 C538.92,113.18 543.33,113.10 545.00,113.40 C546.67,113.70 545.33,114.90 547.00,115.20 C548.67,115.50 553.17,115.30 555.00,115.20 C556.83,115.10 557.17,114.97 558.00,114.60 C558.83,114.23 559.17,113.60 560.00,113.00 C560.83,112.40 561.33,111.45 563.00,111.00 C564.67,110.55 568.00,110.27 570.00,110.30 C572.00,110.33 573.67,110.72 575.00,111.20 C576.33,111.68 577.15,112.27 578.00,113.20 C578.85,114.13 579.47,115.50 580.10,116.80 C580.73,118.10 581.32,119.47 581.80,121.00 C582.28,122.53 582.47,123.50 583.00,126.00 C583.53,128.50 584.33,132.17 585.00,136.00 C585.67,139.83 586.33,144.67 587.00,149.00 C587.67,153.33 588.42,161.00 589.00,162.00 C589.58,163.00 590.00,158.67 590.50,155.00 C591.00,151.33 591.45,145.17 592.00,140.00 C592.55,134.83 593.22,127.30 593.80,124.00 C594.38,120.70 594.93,120.83 595.50,120.20 C596.07,119.57 596.63,119.85 597.20,120.20 C597.77,120.55 598.33,121.00 598.90,122.30 C599.47,123.60 600.08,125.15 600.60,128.00 C601.12,130.85 601.43,134.93 602.00,139.40 C602.57,143.87 603.33,150.30 604.00,154.80 C604.67,159.30 605.33,167.43 606.00,166.40 C606.67,165.37 607.33,154.40 608.00,148.60 C608.67,142.80 609.33,135.97 610.00,131.60 C610.67,127.23 611.33,124.20 612.00,122.40 C612.67,120.60 613.33,120.78 614.00,120.80 C614.67,120.82 615.18,121.23 616.00,122.50 C616.82,123.77 617.90,126.38 618.90,128.40 C619.90,130.42 620.98,132.58 622.00,134.60 C623.02,136.62 623.67,138.40 625.00,140.50 C626.33,142.60 628.83,147.12 630.00,147.20 C631.17,147.28 631.28,144.13 632.00,141.00 C632.72,137.87 633.52,132.30 634.30,128.40 C635.08,124.50 635.80,119.92 636.70,117.60 C637.60,115.28 638.80,114.77 639.70,114.50 C640.60,114.23 641.22,115.68 642.10,116.00 C642.98,116.32 644.02,116.35 645.00,116.40 C645.98,116.45 647.00,116.23 648.00,116.30 C649.00,116.37 650.00,116.85 651.00,116.80 C652.00,116.75 653.00,116.13 654.00,116.00 C655.00,115.87 656.25,115.80 657.00,116.00 C657.75,116.20 658.08,115.92 658.50,117.20 C658.92,118.48 659.17,119.77 659.50,123.70 C659.83,127.63 660.17,135.95 660.50,140.80 C660.83,145.65 661.17,149.95 661.50,152.80 C661.83,155.65 662.08,158.47 662.50,157.90 C662.92,157.33 663.50,151.40 664.00,149.40 C664.50,147.40 665.00,144.77 665.50,145.90 C666.00,147.03 666.42,150.92 667.00,156.20 C667.58,161.48 668.33,177.32 669.00,177.60 C669.67,177.88 670.33,163.03 671.00,157.90 C671.67,152.77 672.42,148.93 673.00,146.80 C673.58,144.67 674.25,145.38 674.50,145.10" fill="none" stroke="#ff0000" stroke-width="2.0" stroke-linejoin="round" stroke-linecap="round"/>
<path d="M407.50,86.60 C408.65,87.03 411.95,88.20 414.40,89.20 C416.85,90.20 419.77,90.75 422.20,92.60 C424.63,94.45 427.30,97.87 429.00,100.30 C430.70,102.73 431.40,103.75 432.40,107.20 C433.40,110.65 434.23,117.20 435.00,121.00 C435.77,124.80 436.08,123.60 437.00,130.00 C437.92,136.40 439.00,151.77 440.50,159.40 C442.00,167.03 444.00,172.12 446.00,175.80 C448.00,179.48 450.67,183.20 452.50,181.50 C454.33,179.80 455.58,171.35 457.00,165.60 C458.42,159.85 459.83,150.43 461.00,147.00 C462.17,143.57 463.00,145.17 464.00,145.00 C465.00,144.83 465.83,146.68 467.00,146.00 C468.17,145.32 469.75,142.78 471.00,140.90 C472.25,139.02 473.67,137.35 474.50,134.70 C475.33,132.05 475.28,129.02 476.00,125.00 C476.72,120.98 477.33,115.28 478.80,110.60 C480.27,105.92 483.23,101.47 484.80,96.90 C486.37,92.33 486.92,86.57 488.20,83.20 C489.48,79.83 490.93,77.90 492.50,76.70 C494.07,75.50 496.33,76.12 497.60,76.00 C498.87,75.88 498.87,76.43 500.10,76.00 C501.33,75.57 503.02,74.12 505.00,73.40 C506.98,72.68 509.50,71.90 512.00,71.70 C514.50,71.50 518.42,71.98 520.00,72.20 C521.58,72.42 520.67,73.22 521.50,73.00 C522.33,72.78 523.58,71.32 525.00,70.90 C526.42,70.48 528.87,70.22 530.00,70.50 C531.13,70.78 531.20,70.40 531.80,72.60 C532.40,74.80 532.90,82.98 533.60,83.70 C534.30,84.42 535.27,78.82 536.00,76.90 C536.73,74.98 536.50,73.20 538.00,72.20 C539.50,71.20 543.58,70.98 545.00,70.90 C546.42,70.82 545.83,71.70 546.50,71.70 C547.17,71.70 547.58,71.18 549.00,70.90 C550.42,70.62 553.33,70.43 555.00,70.00 C556.67,69.57 557.83,69.07 559.00,68.30 C560.17,67.53 560.50,66.25 562.00,65.40 C563.50,64.55 565.83,63.63 568.00,63.20 C570.17,62.77 573.00,62.58 575.00,62.80 C577.00,63.02 578.83,63.30 580.00,64.50 C581.17,65.70 581.42,66.58 582.00,70.00 C582.58,73.42 582.92,78.67 583.50,85.00 C584.08,91.33 584.92,102.00 585.50,108.00 C586.08,114.00 586.45,117.42 587.00,121.00 C587.55,124.58 588.22,129.50 588.80,129.50 C589.38,129.50 590.05,124.48 590.50,121.00 C590.95,117.52 591.17,111.70 591.50,108.60 C591.83,105.50 592.15,103.67 592.50,102.40 C592.85,101.13 593.22,100.98 593.60,101.00 C593.98,101.02 594.40,100.90 594.80,102.50 C595.20,104.10 595.55,108.02 596.00,110.60 C596.45,113.18 597.00,115.60 597.50,118.00 C598.00,120.40 598.42,121.33 599.00,125.00 C599.58,128.67 600.33,134.17 601.00,140.00 C601.67,145.83 602.33,152.50 603.00,160.00 C603.67,167.50 604.25,175.17 605.00,185.00 C605.75,194.83 606.83,215.67 607.50,219.00 C608.17,222.33 608.50,210.67 609.00,205.00 C609.50,199.33 609.83,192.50 610.50,185.00 C611.17,177.50 612.08,168.83 613.00,160.00 C613.92,151.17 615.17,139.50 616.00,132.00 C616.83,124.50 617.33,120.17 618.00,115.00 C618.67,109.83 619.33,104.83 620.00,101.00 C620.67,97.17 621.28,94.38 622.00,92.00 C622.72,89.62 623.53,87.97 624.30,86.70 C625.07,85.43 625.70,84.78 626.60,84.40 C627.50,84.02 628.92,85.82 629.70,84.40 C630.48,82.98 630.78,79.12 631.30,75.90 C631.82,72.68 632.30,68.18 632.80,65.10 C633.30,62.02 633.78,58.95 634.30,57.40 C634.82,55.85 635.38,56.45 635.90,55.80 C636.42,55.15 636.78,54.02 637.40,53.50 C638.02,52.98 638.92,52.32 639.60,52.70 C640.28,53.08 640.93,54.63 641.50,55.80 C642.07,56.97 642.33,58.53 643.00,59.70 C643.67,60.87 644.75,62.03 645.50,62.80 C646.25,63.57 647.00,62.12 647.50,64.30 C648.00,66.48 648.17,71.40 648.50,75.90 C648.83,80.40 649.17,86.67 649.50,91.30 C649.83,95.93 650.08,102.92 650.50,103.70 C650.92,104.48 651.50,99.60 652.00,96.00 C652.50,92.40 652.92,86.22 653.50,82.10 C654.08,77.98 654.83,73.50 655.50,71.30 C656.17,69.10 656.92,68.65 657.50,68.90 C658.08,69.15 658.50,69.58 659.00,72.80 C659.50,76.02 660.00,82.53 660.50,88.20 C661.00,93.87 661.50,105.25 662.00,106.80 C662.50,108.35 663.00,100.08 663.50,97.50 C664.00,94.92 664.50,91.55 665.00,91.30 C665.50,91.05 666.00,92.90 666.50,96.00 C667.00,99.10 667.58,106.30 668.00,109.90 C668.42,113.50 668.58,118.12 669.00,117.60 C669.42,117.08 670.00,110.67 670.50,106.80 C671.00,102.93 671.42,97.88 672.00,94.40 C672.58,90.92 673.67,87.32 674.00,85.90" fill="none" stroke="#00ff00" stroke-width="2.0" stroke-linejoin="round" stroke-linecap="round"/>
<path d="M407.50,74.30 C408.80,75.20 412.85,77.65 415.30,79.70 C417.75,81.75 419.92,83.88 422.20,86.60 C424.48,89.32 427.15,92.85 429.00,96.00 C430.85,99.15 432.15,101.63 433.30,105.50 C434.45,109.37 435.18,115.12 435.90,119.20 C436.62,123.28 436.92,124.67 437.60,130.00 C438.28,135.33 438.93,145.62 440.00,151.20 C441.07,156.78 442.50,159.05 444.00,163.50 C445.50,167.95 447.58,174.30 449.00,177.90 C450.42,181.50 451.23,186.13 452.50,185.10 C453.77,184.07 455.18,177.35 456.60,171.70 C458.02,166.05 459.68,154.80 461.00,151.20 C462.32,147.60 463.58,149.93 464.50,150.10 C465.42,150.27 465.42,152.55 466.50,152.20 C467.58,151.85 469.67,149.88 471.00,148.00 C472.33,146.12 473.33,143.98 474.50,140.90 C475.67,137.82 476.33,132.40 478.00,129.50 C479.67,126.60 482.67,124.50 484.50,123.50 C486.33,122.50 487.42,124.00 489.00,123.50 C490.58,123.00 492.50,121.58 494.00,120.50 C495.50,119.42 496.17,117.90 498.00,117.00 C499.83,116.10 503.00,115.30 505.00,115.10 C507.00,114.90 508.33,115.40 510.00,115.80 C511.67,116.20 513.33,116.92 515.00,117.50 C516.67,118.08 518.33,119.12 520.00,119.30 C521.67,119.48 523.33,118.43 525.00,118.60 C526.67,118.77 528.83,119.30 530.00,120.30 C531.17,121.30 531.42,123.10 532.00,124.60 C532.58,126.10 533.00,128.87 533.50,129.30 C534.00,129.73 534.42,128.20 535.00,127.20 C535.58,126.20 536.17,124.10 537.00,123.30 C537.83,122.50 538.67,122.40 540.00,122.40 C541.33,122.40 543.67,122.93 545.00,123.30 C546.33,123.67 546.33,124.15 548.00,124.60 C549.67,125.05 553.33,125.67 555.00,126.00 C556.67,126.33 556.83,126.78 558.00,126.60 C559.17,126.42 560.83,125.22 562.00,124.90 C563.17,124.58 563.67,124.63 565.00,124.70 C566.33,124.77 568.33,124.97 570.00,125.30 C571.67,125.63 573.67,126.23 575.00,126.70 C576.33,127.17 577.00,127.42 578.00,128.10 C579.00,128.78 580.17,129.78 581.00,130.80 C581.83,131.82 582.33,132.72 583.00,134.20 C583.67,135.68 584.42,137.63 585.00,139.70 C585.58,141.77 586.00,143.85 586.50,146.60 C587.00,149.35 587.62,153.35 588.00,156.20 C588.38,159.05 588.47,162.90 588.80,163.70 C589.13,164.50 589.55,161.92 590.00,161.00 C590.45,160.08 591.00,158.78 591.50,158.20 C592.00,157.62 592.42,157.15 593.00,157.50 C593.58,157.85 594.33,158.92 595.00,160.30 C595.67,161.68 596.33,163.75 597.00,165.80 C597.67,167.85 598.33,170.45 599.00,172.60 C599.67,174.75 600.33,175.08 601.00,178.70 C601.67,182.32 602.33,188.83 603.00,194.30 C603.67,199.77 604.33,207.22 605.00,211.50 C605.67,215.78 606.50,218.03 607.00,220.00 C607.50,221.97 607.58,223.65 608.00,223.30 C608.42,222.95 609.00,220.95 609.50,217.90 C610.00,214.85 610.42,209.65 611.00,205.00 C611.58,200.35 612.33,193.92 613.00,190.00 C613.67,186.08 614.33,183.28 615.00,181.50 C615.67,179.72 616.33,179.48 617.00,179.30 C617.67,179.12 618.33,179.87 619.00,180.40 C619.67,180.93 620.17,181.78 621.00,182.50 C621.83,183.22 623.00,183.62 624.00,184.70 C625.00,185.78 626.08,188.12 627.00,189.00 C627.92,189.88 628.67,190.72 629.50,190.00 C630.33,189.28 631.08,187.55 632.00,184.70 C632.92,181.85 634.00,177.37 635.00,172.90 C636.00,168.43 637.00,161.30 638.00,157.90 C639.00,154.50 640.17,153.58 641.00,152.50 C641.83,151.42 642.33,152.12 643.00,151.40 C643.67,150.68 644.23,149.40 645.00,148.20 C645.77,147.00 646.88,143.72 647.60,144.20 C648.32,144.68 648.65,147.67 649.30,151.10 C649.95,154.53 650.78,164.23 651.50,164.80 C652.22,165.37 652.92,157.65 653.60,154.50 C654.28,151.35 654.90,148.03 655.60,145.90 C656.30,143.77 657.05,141.70 657.80,141.70 C658.55,141.70 659.38,143.77 660.10,145.90 C660.82,148.03 661.42,153.63 662.10,154.50 C662.78,155.37 663.57,151.38 664.20,151.10 C664.83,150.82 665.25,150.52 665.90,152.80 C666.55,155.08 667.37,163.95 668.10,164.80 C668.83,165.65 669.58,159.90 670.30,157.90 C671.02,155.90 671.72,153.08 672.40,152.80 C673.08,152.52 674.07,155.63 674.40,156.20" fill="none" stroke="#0000ff" stroke-width="2.0" stroke-linejoin="round" stroke-linecap="round"/>
<rect x="407.20" y="37.40" width="267.30" height="214.10" fill="none" stroke="#000" stroke-width="1.7"/>
<line x1="502.20" y1="174.90" x2="534.50" y2="174.90" stroke="#000000" stroke-width="1.6" stroke-linecap="butt"/>
<text x="537.40" y="179.30" font-size="13.5" text-anchor="start" fill="#000">(a)</text>
<line x1="502.20" y1="191.80" x2="534.50" y2="191.80" stroke="#ff0000" stroke-width="1.6" stroke-linecap="butt"/>
<text x="537.40" y="196.20" font-size="13.5" text-anchor="start" fill="#000">(b)</text>
<line x1="502.20" y1="208.90" x2="534.50" y2="208.90" stroke="#00ff00" stroke-width="1.6" stroke-linecap="butt"/>
<text x="537.40" y="213.30" font-size="13.5" text-anchor="start" fill="#000">(c)</text>
<line x1="502.20" y1="226.00" x2="534.50" y2="226.00" stroke="#0000ff" stroke-width="1.6" stroke-linecap="butt"/>
<text x="537.40" y="230.40" font-size="13.5" text-anchor="start" fill="#000">(d)</text>
<text x="451.00" y="234.90" font-size="10" text-anchor="start" fill="#000" transform="rotate(-90 451.0 234.9)">O-H</text>
<text x="478.50" y="222.40" font-size="10" text-anchor="start" fill="#000" transform="rotate(-90 478.5 222.4)">C-H</text>
<text x="536.90" y="148.20" font-size="10" text-anchor="start" fill="#000" transform="rotate(-90 536.9 148.2)">B-H</text>
<text x="592.00" y="186.90" font-size="10" text-anchor="start" fill="#000" transform="rotate(-90 592.0 186.9)">C=C</text>
<text x="587.00" y="232.30" font-size="10" text-anchor="start" fill="#000" transform="rotate(-90 587.0 232.3)">C=O</text>
<text x="612.00" y="243.40" font-size="10" text-anchor="start" fill="#000" transform="rotate(-90 612.0 243.4)">B-N</text>
<text x="635.00" y="211.20" font-size="10" text-anchor="start" fill="#000" transform="rotate(-90 635.0 211.2)">C-O</text>
<text x="649.00" y="137.80" font-size="10" text-anchor="start" fill="#000" transform="rotate(-90 649.0 137.8)">C-O</text>
<text x="654.50" y="194.00" font-size="10" text-anchor="start" fill="#000" transform="rotate(-90 654.5 194.0)">B-N-B</text>
<text x="664.50" y="215.60" font-size="10" text-anchor="start" fill="#000" transform="rotate(-90 664.5 215.6)">Co<tspan font-size="7" dy="-4">2+</tspan><tspan dy="4">-O</tspan></text>
<text x="672.00" y="234.90" font-size="10" text-anchor="start" fill="#000" transform="rotate(-90 672.0 234.9)">Co<tspan font-size="7" dy="-4">3+</tspan><tspan dy="4">-O</tspan></text>
<line x1="606.30" y1="168.90" x2="589.50" y2="208.50" stroke="#000" stroke-width="1.3" stroke-linecap="butt"/>
<polygon points="588.0,211.5 587.6,204.8 592.6,207.0" fill="#000"/>
<line x1="401.90" y1="251.50" x2="407.20" y2="251.50" stroke="#000" stroke-width="1.5" stroke-linecap="butt"/>
<text x="400.80" y="256.10" font-size="14" text-anchor="end" fill="#000">-10</text>
<line x1="403.90" y1="240.80" x2="407.20" y2="240.80" stroke="#000" stroke-width="1.5" stroke-linecap="butt"/>
<line x1="401.90" y1="230.09" x2="407.20" y2="230.09" stroke="#000" stroke-width="1.5" stroke-linecap="butt"/>
<text x="400.80" y="234.69" font-size="14" text-anchor="end" fill="#000">0</text>
<line x1="403.90" y1="219.39" x2="407.20" y2="219.39" stroke="#000" stroke-width="1.5" stroke-linecap="butt"/>
<line x1="401.90" y1="208.68" x2="407.20" y2="208.68" stroke="#000" stroke-width="1.5" stroke-linecap="butt"/>
<text x="400.80" y="213.28" font-size="14" text-anchor="end" fill="#000">10</text>
<line x1="403.90" y1="197.97" x2="407.20" y2="197.97" stroke="#000" stroke-width="1.5" stroke-linecap="butt"/>
<line x1="401.90" y1="187.27" x2="407.20" y2="187.27" stroke="#000" stroke-width="1.5" stroke-linecap="butt"/>
<text x="400.80" y="191.87" font-size="14" text-anchor="end" fill="#000">20</text>
<line x1="403.90" y1="176.56" x2="407.20" y2="176.56" stroke="#000" stroke-width="1.5" stroke-linecap="butt"/>
<line x1="401.90" y1="165.86" x2="407.20" y2="165.86" stroke="#000" stroke-width="1.5" stroke-linecap="butt"/>
<text x="400.80" y="170.46" font-size="14" text-anchor="end" fill="#000">30</text>
<line x1="403.90" y1="155.16" x2="407.20" y2="155.16" stroke="#000" stroke-width="1.5" stroke-linecap="butt"/>
<line x1="401.90" y1="144.45" x2="407.20" y2="144.45" stroke="#000" stroke-width="1.5" stroke-linecap="butt"/>
<text x="400.80" y="149.05" font-size="14" text-anchor="end" fill="#000">40</text>
<line x1="403.90" y1="133.75" x2="407.20" y2="133.75" stroke="#000" stroke-width="1.5" stroke-linecap="butt"/>
<line x1="401.90" y1="123.04" x2="407.20" y2="123.04" stroke="#000" stroke-width="1.5" stroke-linecap="butt"/>
<text x="400.80" y="127.64" font-size="14" text-anchor="end" fill="#000">50</text>
<line x1="403.90" y1="112.34" x2="407.20" y2="112.34" stroke="#000" stroke-width="1.5" stroke-linecap="butt"/>
<line x1="401.90" y1="101.63" x2="407.20" y2="101.63" stroke="#000" stroke-width="1.5" stroke-linecap="butt"/>
<text x="400.80" y="106.23" font-size="14" text-anchor="end" fill="#000">60</text>
<line x1="403.90" y1="90.92" x2="407.20" y2="90.92" stroke="#000" stroke-width="1.5" stroke-linecap="butt"/>
<line x1="401.90" y1="80.22" x2="407.20" y2="80.22" stroke="#000" stroke-width="1.5" stroke-linecap="butt"/>
<text x="400.80" y="84.82" font-size="14" text-anchor="end" fill="#000">70</text>
<line x1="403.90" y1="69.52" x2="407.20" y2="69.52" stroke="#000" stroke-width="1.5" stroke-linecap="butt"/>
<line x1="401.90" y1="58.81" x2="407.20" y2="58.81" stroke="#000" stroke-width="1.5" stroke-linecap="butt"/>
<text x="400.80" y="63.41" font-size="14" text-anchor="end" fill="#000">80</text>
<line x1="403.90" y1="48.10" x2="407.20" y2="48.10" stroke="#000" stroke-width="1.5" stroke-linecap="butt"/>
<line x1="401.90" y1="37.40" x2="407.20" y2="37.40" stroke="#000" stroke-width="1.5" stroke-linecap="butt"/>
<text x="400.80" y="42.00" font-size="14" text-anchor="end" fill="#000">90</text>
<line x1="407.20" y1="251.50" x2="407.20" y2="256.80" stroke="#000" stroke-width="1.5" stroke-linecap="butt"/>
<text x="407.20" y="269.50" font-size="14" text-anchor="middle" fill="#000">4000</text>
<line x1="426.29" y1="251.50" x2="426.29" y2="254.80" stroke="#000" stroke-width="1.5" stroke-linecap="butt"/>
<line x1="445.38" y1="251.50" x2="445.38" y2="256.80" stroke="#000" stroke-width="1.5" stroke-linecap="butt"/>
<text x="445.38" y="269.50" font-size="14" text-anchor="middle" fill="#000">3500</text>
<line x1="464.48" y1="251.50" x2="464.48" y2="254.80" stroke="#000" stroke-width="1.5" stroke-linecap="butt"/>
<line x1="483.57" y1="251.50" x2="483.57" y2="256.80" stroke="#000" stroke-width="1.5" stroke-linecap="butt"/>
<text x="483.57" y="269.50" font-size="14" text-anchor="middle" fill="#000">3000</text>
<line x1="502.66" y1="251.50" x2="502.66" y2="254.80" stroke="#000" stroke-width="1.5" stroke-linecap="butt"/>
<line x1="521.75" y1="251.50" x2="521.75" y2="256.80" stroke="#000" stroke-width="1.5" stroke-linecap="butt"/>
<text x="521.75" y="269.50" font-size="14" text-anchor="middle" fill="#000">2500</text>
<line x1="540.85" y1="251.50" x2="540.85" y2="254.80" stroke="#000" stroke-width="1.5" stroke-linecap="butt"/>
<line x1="559.94" y1="251.50" x2="559.94" y2="256.80" stroke="#000" stroke-width="1.5" stroke-linecap="butt"/>
<text x="559.94" y="269.50" font-size="14" text-anchor="middle" fill="#000">2000</text>
<line x1="579.03" y1="251.50" x2="579.03" y2="254.80" stroke="#000" stroke-width="1.5" stroke-linecap="butt"/>
<line x1="598.12" y1="251.50" x2="598.12" y2="256.80" stroke="#000" stroke-width="1.5" stroke-linecap="butt"/>
<text x="598.12" y="269.50" font-size="14" text-anchor="middle" fill="#000">1500</text>
<line x1="617.22" y1="251.50" x2="617.22" y2="254.80" stroke="#000" stroke-width="1.5" stroke-linecap="butt"/>
<line x1="636.31" y1="251.50" x2="636.31" y2="256.80" stroke="#000" stroke-width="1.5" stroke-linecap="butt"/>
<text x="636.31" y="269.50" font-size="14" text-anchor="middle" fill="#000">1000</text>
<line x1="655.40" y1="251.50" x2="655.40" y2="254.80" stroke="#000" stroke-width="1.5" stroke-linecap="butt"/>
<line x1="674.49" y1="251.50" x2="674.49" y2="256.80" stroke="#000" stroke-width="1.5" stroke-linecap="butt"/>
<text x="674.49" y="269.50" font-size="14" text-anchor="middle" fill="#000">500</text>
<text x="541.50" y="295.40" font-size="14" font-weight="bold" text-anchor="middle" fill="#000">Wavenumber (cm<tspan font-size="9" dy="-6">-1</tspan><tspan dy="6">)</tspan></text>
<text x="364.00" y="131.80" font-size="14" font-weight="bold" text-anchor="middle" fill="#000" transform="rotate(-90 364.0 131.8)">% Transmittance</text>
<path d="M55.60,323.50 C61.26,323.52 80.40,323.57 89.57,323.63 C98.74,323.69 103.63,323.76 110.61,323.87 C117.59,323.97 124.47,324.11 131.45,324.28 C138.43,324.44 146.17,324.63 152.49,324.86 C158.81,325.08 164.47,325.37 169.36,325.63 C174.26,325.90 178.36,326.16 181.87,326.45 C185.38,326.74 187.96,327.00 190.40,327.38 C192.85,327.76 194.47,328.34 196.56,328.73 C198.64,329.13 200.43,329.50 202.91,329.75 C205.39,329.99 205.82,330.09 211.44,330.20 C217.07,330.31 227.56,330.32 236.65,330.39 C245.75,330.47 255.54,330.56 266.03,330.65 C276.52,330.74 290.11,330.85 299.58,330.93 C309.04,331.01 318.93,331.07 322.80,331.10" fill="none" stroke="#000000" stroke-width="1.9" stroke-linejoin="round" stroke-linecap="round"/>
<path d="M55.60,323.50 C58.45,323.68 67.03,324.21 72.70,324.56 C78.36,324.90 83.25,325.27 89.57,325.55 C95.89,325.83 103.63,326.01 110.61,326.24 C117.59,326.46 125.16,326.62 131.45,326.92 C137.74,327.23 143.39,327.65 148.32,328.07 C153.25,328.48 157.52,328.93 161.03,329.42 C164.53,329.91 166.58,330.52 169.36,331.02 C172.14,331.51 174.89,331.97 177.70,332.39 C180.51,332.81 183.42,333.20 186.24,333.54 C189.05,333.88 191.79,334.06 194.57,334.44 C197.35,334.82 200.10,335.38 202.91,335.80 C205.72,336.21 207.94,336.59 211.44,336.94 C214.95,337.28 219.05,337.56 223.95,337.87 C228.85,338.17 235.23,338.43 240.82,338.77 C246.41,339.11 251.90,339.53 257.50,339.91 C263.09,340.29 268.74,340.64 274.37,341.05 C279.99,341.47 285.98,341.95 291.24,342.41 C296.50,342.87 300.67,343.29 305.93,343.79 C311.19,344.28 319.99,345.12 322.80,345.38" fill="none" stroke="#ff0000" stroke-width="1.9" stroke-linejoin="round" stroke-linecap="round"/>
<path d="M55.60,323.50 C58.45,323.61 67.03,323.98 72.70,324.19 C78.36,324.39 83.25,324.56 89.57,324.73 C95.89,324.89 103.63,325.03 110.61,325.18 C117.59,325.33 125.16,325.46 131.45,325.63 C137.74,325.81 144.12,326.06 148.32,326.24 C152.52,326.41 153.85,326.46 156.66,326.69 C159.47,326.91 162.38,327.27 165.19,327.59 C168.01,327.92 170.02,328.36 173.53,328.65 C177.04,328.93 181.34,329.09 186.24,329.29 C191.13,329.50 196.62,329.70 202.91,329.87 C209.19,330.05 216.24,330.17 223.95,330.33 C231.66,330.48 240.76,330.65 249.16,330.80 C257.56,330.96 265.96,331.10 274.37,331.25 C282.77,331.40 291.50,331.55 299.58,331.71 C307.65,331.86 318.93,332.08 322.80,332.16" fill="none" stroke="#00ff00" stroke-width="1.9" stroke-linejoin="round" stroke-linecap="round"/>
<path d="M55.60,323.50 C58.45,323.63 67.03,324.05 72.70,324.28 C78.36,324.50 83.25,324.67 89.57,324.86 C95.89,325.05 103.63,325.26 110.61,325.42 C117.59,325.57 124.47,325.65 131.45,325.78 C138.43,325.92 145.48,326.04 152.49,326.24 C159.50,326.43 166.52,326.67 173.53,326.92 C180.54,327.18 187.56,327.44 194.57,327.74 C201.59,328.04 208.60,328.40 215.61,328.73 C222.63,329.07 229.67,329.43 236.65,329.75 C243.63,330.07 250.51,330.32 257.50,330.65 C264.48,330.98 271.52,331.30 278.54,331.71 C285.55,332.11 293.95,332.61 299.58,333.06 C305.20,333.52 308.41,333.91 312.28,334.44 C316.15,334.98 321.05,335.97 322.80,336.27" fill="none" stroke="#0000ff" stroke-width="1.9" stroke-linejoin="round" stroke-linecap="round"/>
<rect x="55.30" y="321.00" width="267.50" height="214.80" fill="none" stroke="#000" stroke-width="1.7"/>
<path d="M93.60,355.30 C96.53,355.40 106.50,355.62 111.20,355.90 C115.90,356.18 118.28,356.50 121.80,357.00 C125.32,357.50 128.78,358.13 132.30,358.90 C135.82,359.67 139.72,360.55 142.90,361.60 C146.08,362.65 148.93,363.97 151.40,365.20 C153.87,366.43 155.93,367.65 157.70,369.00 C159.47,370.35 160.77,371.53 162.00,373.30 C163.23,375.07 164.05,377.77 165.10,379.60 C166.15,381.43 167.05,383.17 168.30,384.30 C169.55,385.43 169.77,385.90 172.60,386.40 C175.43,386.90 180.72,386.95 185.30,387.30 C189.88,387.65 194.82,388.08 200.10,388.50 C205.38,388.92 212.23,389.45 217.00,389.80 C221.77,390.15 226.75,390.47 228.70,390.60" fill="none" stroke="#000000" stroke-width="1.2" stroke-linejoin="round" stroke-linecap="round"/>
<path d="M93.60,355.30 C95.12,356.12 99.77,358.62 102.70,360.20 C105.63,361.78 108.02,363.50 111.20,364.80 C114.38,366.10 118.28,366.93 121.80,368.00 C125.32,369.07 129.13,369.78 132.30,371.20 C135.47,372.62 138.32,374.57 140.80,376.50 C143.28,378.43 145.43,380.52 147.20,382.80 C148.97,385.08 150.00,387.90 151.40,390.20 C152.80,392.50 154.18,394.65 155.60,396.60 C157.02,398.55 158.48,400.32 159.90,401.90 C161.32,403.48 162.70,404.35 164.10,406.10 C165.50,407.85 166.88,410.47 168.30,412.40 C169.72,414.33 170.83,416.10 172.60,417.70 C174.37,419.30 176.43,420.58 178.90,422.00 C181.37,423.42 184.58,424.62 187.40,426.20 C190.22,427.78 192.98,429.73 195.80,431.50 C198.62,433.27 201.47,434.87 204.30,436.80 C207.13,438.73 210.15,440.98 212.80,443.10 C215.45,445.22 217.55,447.20 220.20,449.50 C222.85,451.80 227.28,455.67 228.70,456.90" fill="none" stroke="#ff0000" stroke-width="1.2" stroke-linejoin="round" stroke-linecap="round"/>
<path d="M93.60,355.30 C95.12,355.83 99.77,357.55 102.70,358.50 C105.63,359.45 108.02,360.23 111.20,361.00 C114.38,361.77 118.28,362.40 121.80,363.10 C125.32,363.80 129.13,364.38 132.30,365.20 C135.47,366.02 138.68,367.18 140.80,368.00 C142.92,368.82 143.58,369.05 145.00,370.10 C146.42,371.15 147.88,372.78 149.30,374.30 C150.72,375.82 151.73,377.88 153.50,379.20 C155.27,380.52 157.43,381.25 159.90,382.20 C162.37,383.15 165.13,384.10 168.30,384.90 C171.47,385.70 175.02,386.28 178.90,387.00 C182.78,387.72 187.37,388.48 191.60,389.20 C195.83,389.92 200.07,390.60 204.30,391.30 C208.53,392.00 212.93,392.70 217.00,393.40 C221.07,394.10 226.75,395.15 228.70,395.50" fill="none" stroke="#00ff00" stroke-width="1.2" stroke-linejoin="round" stroke-linecap="round"/>
<path d="M93.60,355.30 C95.12,355.90 99.77,357.85 102.70,358.90 C105.63,359.95 108.02,360.72 111.20,361.60 C114.38,362.48 118.28,363.48 121.80,364.20 C125.32,364.92 128.78,365.27 132.30,365.90 C135.82,366.53 139.37,367.12 142.90,368.00 C146.43,368.88 149.97,370.03 153.50,371.20 C157.03,372.37 160.57,373.60 164.10,375.00 C167.63,376.40 171.17,378.05 174.70,379.60 C178.23,381.15 181.78,382.82 185.30,384.30 C188.82,385.78 192.28,386.98 195.80,388.50 C199.32,390.02 202.87,391.53 206.40,393.40 C209.93,395.27 214.17,397.58 217.00,399.70 C219.83,401.82 221.45,403.62 223.40,406.10 C225.35,408.58 227.82,413.18 228.70,414.60" fill="none" stroke="#0000ff" stroke-width="1.2" stroke-linejoin="round" stroke-linecap="round"/>
<rect x="93.60" y="355.30" width="135.10" height="118.70" fill="none" stroke="#000" stroke-width="0.9"/>
<line x1="91.40" y1="473.98" x2="93.60" y2="473.98" stroke="#000" stroke-width="0.8" stroke-linecap="butt"/>
<line x1="92.40" y1="469.03" x2="93.60" y2="469.03" stroke="#000" stroke-width="0.7" stroke-linecap="butt"/>
<text x="91.0" y="477.18" font-size="9.5" text-anchor="end" transform="translate(91.0 0) scale(0.72 1) translate(-91.0 0)">88</text>
<line x1="91.40" y1="464.09" x2="93.60" y2="464.09" stroke="#000" stroke-width="0.8" stroke-linecap="butt"/>
<line x1="92.40" y1="459.14" x2="93.60" y2="459.14" stroke="#000" stroke-width="0.7" stroke-linecap="butt"/>
<text x="91.0" y="467.29" font-size="9.5" text-anchor="end" transform="translate(91.0 0) scale(0.72 1) translate(-91.0 0)">89</text>
<line x1="91.40" y1="454.20" x2="93.60" y2="454.20" stroke="#000" stroke-width="0.8" stroke-linecap="butt"/>
<line x1="92.40" y1="449.25" x2="93.60" y2="449.25" stroke="#000" stroke-width="0.7" stroke-linecap="butt"/>
<text x="91.0" y="457.40" font-size="9.5" text-anchor="end" transform="translate(91.0 0) scale(0.72 1) translate(-91.0 0)">90</text>
<line x1="91.40" y1="444.31" x2="93.60" y2="444.31" stroke="#000" stroke-width="0.8" stroke-linecap="butt"/>
<line x1="92.40" y1="439.36" x2="93.60" y2="439.36" stroke="#000" stroke-width="0.7" stroke-linecap="butt"/>
<text x="91.0" y="447.51" font-size="9.5" text-anchor="end" transform="translate(91.0 0) scale(0.72 1) translate(-91.0 0)">91</text>
<line x1="91.40" y1="434.42" x2="93.60" y2="434.42" stroke="#000" stroke-width="0.8" stroke-linecap="butt"/>
<line x1="92.40" y1="429.47" x2="93.60" y2="429.47" stroke="#000" stroke-width="0.7" stroke-linecap="butt"/>
<text x="91.0" y="437.62" font-size="9.5" text-anchor="end" transform="translate(91.0 0) scale(0.72 1) translate(-91.0 0)">92</text>
<line x1="91.40" y1="424.53" x2="93.60" y2="424.53" stroke="#000" stroke-width="0.8" stroke-linecap="butt"/>
<line x1="92.40" y1="419.58" x2="93.60" y2="419.58" stroke="#000" stroke-width="0.7" stroke-linecap="butt"/>
<text x="91.0" y="427.73" font-size="9.5" text-anchor="end" transform="translate(91.0 0) scale(0.72 1) translate(-91.0 0)">93</text>
<line x1="91.40" y1="414.64" x2="93.60" y2="414.64" stroke="#000" stroke-width="0.8" stroke-linecap="butt"/>
<line x1="92.40" y1="409.69" x2="93.60" y2="409.69" stroke="#000" stroke-width="0.7" stroke-linecap="butt"/>
<text x="91.0" y="417.84" font-size="9.5" text-anchor="end" transform="translate(91.0 0) scale(0.72 1) translate(-91.0 0)">94</text>
<line x1="91.40" y1="404.75" x2="93.60" y2="404.75" stroke="#000" stroke-width="0.8" stroke-linecap="butt"/>
<line x1="92.40" y1="399.80" x2="93.60" y2="399.80" stroke="#000" stroke-width="0.7" stroke-linecap="butt"/>
<text x="91.0" y="407.95" font-size="9.5" text-anchor="end" transform="translate(91.0 0) scale(0.72 1) translate(-91.0 0)">95</text>
<line x1="91.40" y1="394.86" x2="93.60" y2="394.86" stroke="#000" stroke-width="0.8" stroke-linecap="butt"/>
<line x1="92.40" y1="389.91" x2="93.60" y2="389.91" stroke="#000" stroke-width="0.7" stroke-linecap="butt"/>
<text x="91.0" y="398.06" font-size="9.5" text-anchor="end" transform="translate(91.0 0) scale(0.72 1) translate(-91.0 0)">96</text>
<line x1="91.40" y1="384.97" x2="93.60" y2="384.97" stroke="#000" stroke-width="0.8" stroke-linecap="butt"/>
<line x1="92.40" y1="380.02" x2="93.60" y2="380.02" stroke="#000" stroke-width="0.7" stroke-linecap="butt"/>
<text x="91.0" y="388.17" font-size="9.5" text-anchor="end" transform="translate(91.0 0) scale(0.72 1) translate(-91.0 0)">97</text>
<line x1="91.40" y1="375.08" x2="93.60" y2="375.08" stroke="#000" stroke-width="0.8" stroke-linecap="butt"/>
<line x1="92.40" y1="370.13" x2="93.60" y2="370.13" stroke="#000" stroke-width="0.7" stroke-linecap="butt"/>
<text x="91.0" y="378.28" font-size="9.5" text-anchor="end" transform="translate(91.0 0) scale(0.72 1) translate(-91.0 0)">98</text>
<line x1="91.40" y1="365.19" x2="93.60" y2="365.19" stroke="#000" stroke-width="0.8" stroke-linecap="butt"/>
<line x1="92.40" y1="360.24" x2="93.60" y2="360.24" stroke="#000" stroke-width="0.7" stroke-linecap="butt"/>
<text x="91.0" y="368.39" font-size="9.5" text-anchor="end" transform="translate(91.0 0) scale(0.72 1) translate(-91.0 0)">99</text>
<line x1="91.40" y1="355.30" x2="93.60" y2="355.30" stroke="#000" stroke-width="0.8" stroke-linecap="butt"/>
<text x="91.0" y="358.50" font-size="9.5" text-anchor="end" transform="translate(91.0 0) scale(0.72 1) translate(-91.0 0)">100</text>
<line x1="99.10" y1="474.00" x2="99.10" y2="476.20" stroke="#000" stroke-width="0.8" stroke-linecap="butt"/>
<line x1="92.62" y1="474.00" x2="92.62" y2="475.20" stroke="#000" stroke-width="0.7" stroke-linecap="butt"/>
<text x="99.10" y="484.0" font-size="7.2" text-anchor="middle">50</text>
<line x1="112.06" y1="474.00" x2="112.06" y2="476.20" stroke="#000" stroke-width="0.8" stroke-linecap="butt"/>
<line x1="105.58" y1="474.00" x2="105.58" y2="475.20" stroke="#000" stroke-width="0.7" stroke-linecap="butt"/>
<text x="112.06" y="484.0" font-size="7.2" text-anchor="middle">100</text>
<line x1="125.02" y1="474.00" x2="125.02" y2="476.20" stroke="#000" stroke-width="0.8" stroke-linecap="butt"/>
<line x1="118.54" y1="474.00" x2="118.54" y2="475.20" stroke="#000" stroke-width="0.7" stroke-linecap="butt"/>
<text x="125.02" y="484.0" font-size="7.2" text-anchor="middle">150</text>
<line x1="137.98" y1="474.00" x2="137.98" y2="476.20" stroke="#000" stroke-width="0.8" stroke-linecap="butt"/>
<line x1="131.50" y1="474.00" x2="131.50" y2="475.20" stroke="#000" stroke-width="0.7" stroke-linecap="butt"/>
<text x="137.98" y="484.0" font-size="7.2" text-anchor="middle">200</text>
<line x1="150.94" y1="474.00" x2="150.94" y2="476.20" stroke="#000" stroke-width="0.8" stroke-linecap="butt"/>
<line x1="144.46" y1="474.00" x2="144.46" y2="475.20" stroke="#000" stroke-width="0.7" stroke-linecap="butt"/>
<text x="150.94" y="484.0" font-size="7.2" text-anchor="middle">250</text>
<line x1="163.90" y1="474.00" x2="163.90" y2="476.20" stroke="#000" stroke-width="0.8" stroke-linecap="butt"/>
<line x1="157.42" y1="474.00" x2="157.42" y2="475.20" stroke="#000" stroke-width="0.7" stroke-linecap="butt"/>
<text x="163.90" y="484.0" font-size="7.2" text-anchor="middle">300</text>
<line x1="176.86" y1="474.00" x2="176.86" y2="476.20" stroke="#000" stroke-width="0.8" stroke-linecap="butt"/>
<line x1="170.38" y1="474.00" x2="170.38" y2="475.20" stroke="#000" stroke-width="0.7" stroke-linecap="butt"/>
<text x="176.86" y="484.0" font-size="7.2" text-anchor="middle">350</text>
<line x1="189.82" y1="474.00" x2="189.82" y2="476.20" stroke="#000" stroke-width="0.8" stroke-linecap="butt"/>
<line x1="183.34" y1="474.00" x2="183.34" y2="475.20" stroke="#000" stroke-width="0.7" stroke-linecap="butt"/>
<text x="189.82" y="484.0" font-size="7.2" text-anchor="middle">400</text>
<line x1="202.78" y1="474.00" x2="202.78" y2="476.20" stroke="#000" stroke-width="0.8" stroke-linecap="butt"/>
<line x1="196.30" y1="474.00" x2="196.30" y2="475.20" stroke="#000" stroke-width="0.7" stroke-linecap="butt"/>
<text x="202.78" y="484.0" font-size="7.2" text-anchor="middle">450</text>
<line x1="215.74" y1="474.00" x2="215.74" y2="476.20" stroke="#000" stroke-width="0.8" stroke-linecap="butt"/>
<line x1="209.26" y1="474.00" x2="209.26" y2="475.20" stroke="#000" stroke-width="0.7" stroke-linecap="butt"/>
<text x="215.74" y="484.0" font-size="7.2" text-anchor="middle">500</text>
<line x1="228.70" y1="474.00" x2="228.70" y2="476.20" stroke="#000" stroke-width="0.8" stroke-linecap="butt"/>
<line x1="222.22" y1="474.00" x2="222.22" y2="475.20" stroke="#000" stroke-width="0.7" stroke-linecap="butt"/>
<text x="228.70" y="484.0" font-size="7.2" text-anchor="middle">550</text>
<text x="161.3" y="495.7" font-size="7.6" font-weight="bold" text-anchor="middle" textLength="52.8" lengthAdjust="spacingAndGlyphs">Temperature (<tspan font-size="5" dy="-3.5">o</tspan><tspan dy="3.5">C)</tspan></text>
<text x="73.6" y="418.2" font-size="7.2" font-weight="bold" text-anchor="middle" transform="rotate(-90 73.6 418.2)">Weight (%)</text>
<line x1="248.10" y1="446.00" x2="281.00" y2="446.00" stroke="#000000" stroke-width="1.6" stroke-linecap="butt"/>
<text x="283.70" y="450.60" font-size="14" text-anchor="start" fill="#000">(a)</text>
<line x1="248.10" y1="462.80" x2="281.00" y2="462.80" stroke="#ff0000" stroke-width="1.6" stroke-linecap="butt"/>
<text x="283.70" y="467.40" font-size="14" text-anchor="start" fill="#000">(b)</text>
<line x1="248.10" y1="479.90" x2="281.00" y2="479.90" stroke="#00ff00" stroke-width="1.6" stroke-linecap="butt"/>
<text x="283.70" y="484.50" font-size="14" text-anchor="start" fill="#000">(c)</text>
<line x1="248.10" y1="497.30" x2="281.00" y2="497.30" stroke="#0000ff" stroke-width="1.6" stroke-linecap="butt"/>
<text x="283.70" y="501.90" font-size="14" text-anchor="start" fill="#000">(d)</text>
<line x1="50.00" y1="535.80" x2="55.30" y2="535.80" stroke="#000" stroke-width="1.5" stroke-linecap="butt"/>
<text x="47.90" y="540.40" font-size="14" text-anchor="end" fill="#000">0</text>
<line x1="52.00" y1="525.15" x2="55.30" y2="525.15" stroke="#000" stroke-width="1.5" stroke-linecap="butt"/>
<line x1="50.00" y1="514.50" x2="55.30" y2="514.50" stroke="#000" stroke-width="1.5" stroke-linecap="butt"/>
<text x="47.90" y="519.10" font-size="14" text-anchor="end" fill="#000">10</text>
<line x1="52.00" y1="503.85" x2="55.30" y2="503.85" stroke="#000" stroke-width="1.5" stroke-linecap="butt"/>
<line x1="50.00" y1="493.20" x2="55.30" y2="493.20" stroke="#000" stroke-width="1.5" stroke-linecap="butt"/>
<text x="47.90" y="497.80" font-size="14" text-anchor="end" fill="#000">20</text>
<line x1="52.00" y1="482.55" x2="55.30" y2="482.55" stroke="#000" stroke-width="1.5" stroke-linecap="butt"/>
<line x1="50.00" y1="471.90" x2="55.30" y2="471.90" stroke="#000" stroke-width="1.5" stroke-linecap="butt"/>
<text x="47.90" y="476.50" font-size="14" text-anchor="end" fill="#000">30</text>
<line x1="52.00" y1="461.25" x2="55.30" y2="461.25" stroke="#000" stroke-width="1.5" stroke-linecap="butt"/>
<line x1="50.00" y1="450.60" x2="55.30" y2="450.60" stroke="#000" stroke-width="1.5" stroke-linecap="butt"/>
<text x="47.90" y="455.20" font-size="14" text-anchor="end" fill="#000">40</text>
<line x1="52.00" y1="439.95" x2="55.30" y2="439.95" stroke="#000" stroke-width="1.5" stroke-linecap="butt"/>
<line x1="50.00" y1="429.30" x2="55.30" y2="429.30" stroke="#000" stroke-width="1.5" stroke-linecap="butt"/>
<text x="47.90" y="433.90" font-size="14" text-anchor="end" fill="#000">50</text>
<line x1="52.00" y1="418.65" x2="55.30" y2="418.65" stroke="#000" stroke-width="1.5" stroke-linecap="butt"/>
<line x1="50.00" y1="408.00" x2="55.30" y2="408.00" stroke="#000" stroke-width="1.5" stroke-linecap="butt"/>
<text x="47.90" y="412.60" font-size="14" text-anchor="end" fill="#000">60</text>
<line x1="52.00" y1="397.35" x2="55.30" y2="397.35" stroke="#000" stroke-width="1.5" stroke-linecap="butt"/>
<line x1="50.00" y1="386.70" x2="55.30" y2="386.70" stroke="#000" stroke-width="1.5" stroke-linecap="butt"/>
<text x="47.90" y="391.30" font-size="14" text-anchor="end" fill="#000">70</text>
<line x1="52.00" y1="376.05" x2="55.30" y2="376.05" stroke="#000" stroke-width="1.5" stroke-linecap="butt"/>
<line x1="50.00" y1="365.40" x2="55.30" y2="365.40" stroke="#000" stroke-width="1.5" stroke-linecap="butt"/>
<text x="47.90" y="370.00" font-size="14" text-anchor="end" fill="#000">80</text>
<line x1="52.00" y1="354.75" x2="55.30" y2="354.75" stroke="#000" stroke-width="1.5" stroke-linecap="butt"/>
<line x1="50.00" y1="344.10" x2="55.30" y2="344.10" stroke="#000" stroke-width="1.5" stroke-linecap="butt"/>
<text x="47.90" y="348.70" font-size="14" text-anchor="end" fill="#000">90</text>
<line x1="52.00" y1="333.45" x2="55.30" y2="333.45" stroke="#000" stroke-width="1.5" stroke-linecap="butt"/>
<line x1="50.00" y1="322.80" x2="55.30" y2="322.80" stroke="#000" stroke-width="1.5" stroke-linecap="butt"/>
<text x="47.90" y="327.40" font-size="14" text-anchor="end" fill="#000">100</text>
<line x1="65.55" y1="535.80" x2="65.55" y2="541.10" stroke="#000" stroke-width="1.5" stroke-linecap="butt"/>
<text x="65.55" y="553.40" font-size="14" text-anchor="middle" fill="#000">50</text>
<line x1="78.41" y1="535.80" x2="78.41" y2="539.10" stroke="#000" stroke-width="1.5" stroke-linecap="butt"/>
<line x1="91.28" y1="535.80" x2="91.28" y2="541.10" stroke="#000" stroke-width="1.5" stroke-linecap="butt"/>
<text x="91.28" y="553.40" font-size="14" text-anchor="middle" fill="#000">100</text>
<line x1="104.14" y1="535.80" x2="104.14" y2="539.10" stroke="#000" stroke-width="1.5" stroke-linecap="butt"/>
<line x1="117.00" y1="535.80" x2="117.00" y2="541.10" stroke="#000" stroke-width="1.5" stroke-linecap="butt"/>
<text x="117.00" y="553.40" font-size="14" text-anchor="middle" fill="#000">150</text>
<line x1="129.86" y1="535.80" x2="129.86" y2="539.10" stroke="#000" stroke-width="1.5" stroke-linecap="butt"/>
<line x1="142.73" y1="535.80" x2="142.73" y2="541.10" stroke="#000" stroke-width="1.5" stroke-linecap="butt"/>
<text x="142.73" y="553.40" font-size="14" text-anchor="middle" fill="#000">200</text>
<line x1="155.59" y1="535.80" x2="155.59" y2="539.10" stroke="#000" stroke-width="1.5" stroke-linecap="butt"/>
<line x1="168.45" y1="535.80" x2="168.45" y2="541.10" stroke="#000" stroke-width="1.5" stroke-linecap="butt"/>
<text x="168.45" y="553.40" font-size="14" text-anchor="middle" fill="#000">250</text>
<line x1="181.31" y1="535.80" x2="181.31" y2="539.10" stroke="#000" stroke-width="1.5" stroke-linecap="butt"/>
<line x1="194.18" y1="535.80" x2="194.18" y2="541.10" stroke="#000" stroke-width="1.5" stroke-linecap="butt"/>
<text x="194.18" y="553.40" font-size="14" text-anchor="middle" fill="#000">300</text>
<line x1="207.04" y1="535.80" x2="207.04" y2="539.10" stroke="#000" stroke-width="1.5" stroke-linecap="butt"/>
<line x1="219.90" y1="535.80" x2="219.90" y2="541.10" stroke="#000" stroke-width="1.5" stroke-linecap="butt"/>
<text x="219.90" y="553.40" font-size="14" text-anchor="middle" fill="#000">350</text>
<line x1="232.76" y1="535.80" x2="232.76" y2="539.10" stroke="#000" stroke-width="1.5" stroke-linecap="butt"/>
<line x1="245.62" y1="535.80" x2="245.62" y2="541.10" stroke="#000" stroke-width="1.5" stroke-linecap="butt"/>
<text x="245.62" y="553.40" font-size="14" text-anchor="middle" fill="#000">400</text>
<line x1="258.49" y1="535.80" x2="258.49" y2="539.10" stroke="#000" stroke-width="1.5" stroke-linecap="butt"/>
<line x1="271.35" y1="535.80" x2="271.35" y2="541.10" stroke="#000" stroke-width="1.5" stroke-linecap="butt"/>
<text x="271.35" y="553.40" font-size="14" text-anchor="middle" fill="#000">450</text>
<line x1="284.21" y1="535.80" x2="284.21" y2="539.10" stroke="#000" stroke-width="1.5" stroke-linecap="butt"/>
<line x1="297.07" y1="535.80" x2="297.07" y2="541.10" stroke="#000" stroke-width="1.5" stroke-linecap="butt"/>
<text x="297.07" y="553.40" font-size="14" text-anchor="middle" fill="#000">500</text>
<line x1="309.94" y1="535.80" x2="309.94" y2="539.10" stroke="#000" stroke-width="1.5" stroke-linecap="butt"/>
<line x1="322.80" y1="535.80" x2="322.80" y2="541.10" stroke="#000" stroke-width="1.5" stroke-linecap="butt"/>
<text x="322.80" y="553.40" font-size="14" text-anchor="middle" fill="#000">550</text>
<text x="189.10" y="574.70" font-size="14" font-weight="bold" text-anchor="middle" fill="#000">Temperature (<tspan font-size="9" dy="-7">o</tspan><tspan dy="7">C)</tspan></text>
<text x="15.60" y="430.50" font-size="14" font-weight="bold" text-anchor="middle" fill="#000" transform="rotate(-90 15.6 430.5)">Weight (%)</text>
<path d="M407.00,451.30 C407.50,451.30 408.67,450.55 410.00,451.30 C411.33,452.05 413.00,454.68 415.00,455.80 C417.00,456.92 419.83,457.37 422.00,458.00 C424.17,458.63 426.50,459.12 428.00,459.60 C429.50,460.08 429.83,460.80 431.00,460.90 C432.17,461.00 433.50,460.13 435.00,460.20 C436.50,460.27 438.67,460.73 440.00,461.30 C441.33,461.87 442.25,461.32 443.00,463.60 C443.75,465.88 444.08,468.93 444.50,475.00 C444.92,481.07 445.18,492.50 445.50,500.00 C445.82,507.50 446.15,515.47 446.40,520.00 C446.65,524.53 446.80,527.20 447.00,527.20 C447.20,527.20 447.43,526.20 447.60,520.00 C447.77,513.80 447.85,498.28 448.00,490.00 C448.15,481.72 448.17,474.15 448.50,470.30 C448.83,466.45 449.25,467.72 450.00,466.90 C450.75,466.08 451.67,465.77 453.00,465.40 C454.33,465.03 456.50,465.18 458.00,464.70 C459.50,464.22 460.50,463.43 462.00,462.50 C463.50,461.57 465.33,459.93 467.00,459.10 C468.67,458.27 469.83,457.68 472.00,457.50 C474.17,457.32 477.50,457.65 480.00,458.00 C482.50,458.35 485.50,459.48 487.00,459.60 C488.50,459.72 488.33,458.42 489.00,458.70 C489.67,458.98 490.00,460.48 491.00,461.30 C492.00,462.12 493.50,462.92 495.00,463.60 C496.50,464.28 498.33,464.67 500.00,465.40 C501.67,466.13 503.33,466.45 505.00,468.00 C506.67,469.55 508.33,472.28 510.00,474.70 C511.67,477.12 513.67,480.27 515.00,482.50 C516.33,484.73 517.00,486.23 518.00,488.10 C519.00,489.97 520.17,492.47 521.00,493.70 C521.83,494.93 522.33,495.50 523.00,495.50 C523.67,495.50 524.17,495.30 525.00,493.70 C525.83,492.10 527.00,489.07 528.00,485.90 C529.00,482.73 530.00,477.87 531.00,474.70 C532.00,471.53 533.00,468.75 534.00,466.90 C535.00,465.05 535.83,464.30 537.00,463.60 C538.17,462.90 539.67,462.78 541.00,462.70 C542.33,462.62 543.50,462.77 545.00,463.10 C546.50,463.43 548.00,463.95 550.00,464.70 C552.00,465.45 555.00,466.85 557.00,467.60 C559.00,468.35 560.33,469.05 562.00,469.20 C563.67,469.35 564.83,468.62 567.00,468.50 C569.17,468.38 572.83,468.63 575.00,468.50 C577.17,468.37 578.33,467.55 580.00,467.70 C581.67,467.85 583.33,468.90 585.00,469.40 C586.67,469.90 588.83,470.43 590.00,470.70 C591.17,470.97 591.33,471.22 592.00,471.00 C592.67,470.78 593.33,470.15 594.00,469.40 C594.67,468.65 595.00,467.48 596.00,466.50 C597.00,465.52 598.50,464.22 600.00,463.50 C601.50,462.78 603.83,462.12 605.00,462.20 C606.17,462.28 606.17,464.12 607.00,464.00 C607.83,463.88 608.67,461.95 610.00,461.50 C611.33,461.05 613.33,461.30 615.00,461.30 C616.67,461.30 618.83,461.88 620.00,461.50 C621.17,461.12 621.17,459.72 622.00,459.00 C622.83,458.28 623.67,458.20 625.00,457.20 C626.33,456.20 628.33,454.75 630.00,453.00 C631.67,451.25 633.33,449.13 635.00,446.70 C636.67,444.27 638.33,441.03 640.00,438.40 C641.67,435.77 643.33,433.00 645.00,430.90 C646.67,428.80 648.33,427.10 650.00,425.80 C651.67,424.50 653.33,423.73 655.00,423.10 C656.67,422.47 658.33,422.30 660.00,422.00 C661.67,421.70 663.83,421.42 665.00,421.30 C666.17,421.18 666.50,421.42 667.00,421.30 C667.50,421.18 667.50,421.40 668.00,420.60 C668.50,419.80 669.17,418.10 670.00,416.50 C670.83,414.90 672.50,411.92 673.00,411.00" fill="none" stroke="#000000" stroke-width="2.0" stroke-linejoin="round" stroke-linecap="round"/>
<path d="M407.00,410.00 C407.83,410.25 410.00,410.00 412.00,411.50 C414.00,413.00 416.00,416.27 419.00,419.00 C422.00,421.73 426.83,425.50 430.00,427.90 C433.17,430.30 436.33,432.17 438.00,433.40 C439.67,434.63 439.08,435.18 440.00,435.30 C440.92,435.42 442.72,433.98 443.50,434.10 C444.28,434.22 444.40,431.68 444.70,436.00 C445.00,440.32 445.03,449.33 445.30,460.00 C445.57,470.67 446.02,491.03 446.30,500.00 C446.58,508.97 446.77,513.80 447.00,513.80 C447.23,513.80 447.45,508.97 447.70,500.00 C447.95,491.03 448.20,469.00 448.50,460.00 C448.80,451.00 449.17,448.83 449.50,446.00 C449.83,443.17 449.95,444.20 450.50,443.00 C451.05,441.80 451.63,440.08 452.80,438.80 C453.97,437.52 455.73,436.85 457.50,435.30 C459.27,433.75 461.25,431.45 463.40,429.50 C465.55,427.55 468.07,425.17 470.40,423.60 C472.73,422.03 474.88,421.27 477.40,420.10 C479.92,418.93 483.82,417.37 485.50,416.60 C487.18,415.83 486.92,415.90 487.50,415.50 C488.08,415.10 488.50,414.15 489.00,414.20 C489.50,414.25 490.00,415.47 490.50,415.80 C491.00,416.13 491.08,416.27 492.00,416.20 C492.92,416.13 494.35,415.82 496.00,415.40 C497.65,414.98 500.13,414.47 501.90,413.70 C503.67,412.93 504.85,411.62 506.60,410.80 C508.35,409.98 510.85,409.00 512.40,408.80 C513.95,408.60 514.63,409.20 515.90,409.60 C517.17,410.00 518.48,410.83 520.00,411.20 C521.52,411.57 522.50,411.90 525.00,411.80 C527.50,411.70 531.67,410.98 535.00,410.60 C538.33,410.22 540.83,409.73 545.00,409.50 C549.17,409.27 555.00,409.25 560.00,409.20 C565.00,409.15 569.17,409.15 575.00,409.20 C580.83,409.25 590.83,409.37 595.00,409.50 C599.17,409.63 595.83,410.05 600.00,410.00 C604.17,409.95 613.33,409.63 620.00,409.20 C626.67,408.77 634.17,407.92 640.00,407.40 C645.83,406.88 651.33,406.52 655.00,406.10 C658.67,405.68 660.17,405.25 662.00,404.90 C663.83,404.55 665.00,404.72 666.00,404.00 C667.00,403.28 667.17,402.60 668.00,400.60 C668.83,398.60 670.08,394.72 671.00,392.00 C671.92,389.28 673.08,385.58 673.50,384.30" fill="none" stroke="#ff0000" stroke-width="2.0" stroke-linejoin="round" stroke-linecap="round"/>
<path d="M407.00,375.70 C407.67,375.42 410.00,374.37 411.00,374.00 C412.00,373.63 411.83,373.07 413.00,373.50 C414.17,373.93 416.00,375.65 418.00,376.60 C420.00,377.55 422.17,378.00 425.00,379.20 C427.83,380.40 432.00,383.03 435.00,383.80 C438.00,384.57 441.42,383.00 443.00,383.80 C444.58,384.60 444.08,382.57 444.50,388.60 C444.92,394.63 445.18,408.93 445.50,420.00 C445.82,431.07 446.15,447.73 446.40,455.00 C446.65,462.27 446.80,464.43 447.00,463.60 C447.20,462.77 447.43,457.27 447.60,450.00 C447.77,442.73 447.83,428.37 448.00,420.00 C448.17,411.63 448.27,404.17 448.60,399.80 C448.93,395.43 449.27,395.23 450.00,393.80 C450.73,392.37 451.33,391.83 453.00,391.20 C454.67,390.57 457.17,390.57 460.00,390.00 C462.83,389.43 466.67,388.17 470.00,387.80 C473.33,387.43 477.00,387.67 480.00,387.80 C483.00,387.93 486.33,388.70 488.00,388.60 C489.67,388.50 489.33,386.92 490.00,387.20 C490.67,387.48 491.33,389.20 492.00,390.30 C492.67,391.40 492.67,393.17 494.00,393.80 C495.33,394.43 497.33,394.25 500.00,394.10 C502.67,393.95 505.83,393.38 510.00,392.90 C514.17,392.42 521.67,391.68 525.00,391.20 C528.33,390.72 527.50,390.28 530.00,390.00 C532.50,389.72 537.00,389.87 540.00,389.50 C543.00,389.13 544.67,388.15 548.00,387.80 C551.33,387.45 556.33,387.40 560.00,387.40 C563.67,387.40 567.00,387.45 570.00,387.80 C573.00,388.15 575.50,388.65 578.00,389.50 C580.50,390.35 583.23,391.97 585.00,392.90 C586.77,393.83 587.43,395.10 588.60,395.10 C589.77,395.10 590.93,393.83 592.00,392.90 C593.07,391.97 592.83,390.22 595.00,389.50 C597.17,388.78 601.67,388.90 605.00,388.60 C608.33,388.30 610.83,388.13 615.00,387.70 C619.17,387.27 625.00,386.37 630.00,386.00 C635.00,385.63 640.00,385.70 645.00,385.50 C650.00,385.30 656.67,385.00 660.00,384.80 C663.33,384.60 663.67,385.10 665.00,384.30 C666.33,383.50 667.00,382.43 668.00,380.00 C669.00,377.57 670.08,372.98 671.00,369.70 C671.92,366.42 673.08,361.87 673.50,360.30" fill="none" stroke="#00ff00" stroke-width="2.0" stroke-linejoin="round" stroke-linecap="round"/>
<path d="M407.00,332.00 C407.08,332.63 406.55,335.08 407.50,335.80 C408.45,336.52 410.83,335.50 412.70,336.30 C414.57,337.10 415.82,339.32 418.70,340.60 C421.58,341.88 427.28,343.08 430.00,344.00 C432.72,344.92 433.45,345.75 435.00,346.10 C436.55,346.45 438.02,345.93 439.30,346.10 C440.58,346.27 441.88,345.73 442.70,347.10 C443.52,348.47 443.77,350.23 444.20,354.30 C444.63,358.37 444.95,363.05 445.30,371.50 C445.65,379.95 446.02,395.80 446.30,405.00 C446.58,414.20 446.78,426.70 447.00,426.70 C447.22,426.70 447.43,412.78 447.60,405.00 C447.77,397.22 447.83,386.73 448.00,380.00 C448.17,373.27 448.27,368.17 448.60,364.60 C448.93,361.03 449.27,359.95 450.00,358.60 C450.73,357.25 451.33,356.98 453.00,356.50 C454.67,356.02 457.17,356.07 460.00,355.70 C462.83,355.33 466.67,354.53 470.00,354.30 C473.33,354.07 477.50,354.10 480.00,354.30 C482.50,354.50 483.67,355.42 485.00,355.50 C486.33,355.58 487.17,355.15 488.00,354.80 C488.83,354.45 489.33,353.05 490.00,353.40 C490.67,353.75 491.33,355.83 492.00,356.90 C492.67,357.97 492.67,359.17 494.00,359.80 C495.33,360.43 498.17,360.47 500.00,360.70 C501.83,360.93 503.00,360.98 505.00,361.20 C507.00,361.42 509.75,361.58 512.00,362.00 C514.25,362.42 516.50,363.83 518.50,363.70 C520.50,363.57 522.08,361.90 524.00,361.20 C525.92,360.50 527.33,359.93 530.00,359.50 C532.67,359.07 535.83,358.83 540.00,358.60 C544.17,358.37 550.00,358.10 555.00,358.10 C560.00,358.10 565.83,358.32 570.00,358.60 C574.17,358.88 576.67,359.23 580.00,359.80 C583.33,360.37 586.67,361.48 590.00,362.00 C593.33,362.52 595.00,362.70 600.00,362.90 C605.00,363.10 613.33,362.98 620.00,363.20 C626.67,363.42 634.17,363.92 640.00,364.20 C645.83,364.48 650.88,364.60 655.00,364.90 C659.12,365.20 662.70,366.20 664.70,366.00 C666.70,365.80 666.12,364.93 667.00,363.70 C667.88,362.47 668.92,360.60 670.00,358.60 C671.08,356.60 672.92,352.85 673.50,351.70" fill="none" stroke="#0000ff" stroke-width="2.0" stroke-linejoin="round" stroke-linecap="round"/>
<rect x="406.60" y="322.30" width="266.90" height="214.20" fill="none" stroke="#000" stroke-width="1.7"/>
<line x1="406.60" y1="451.50" x2="406.60" y2="535.70" stroke="#000033" stroke-width="1.7" stroke-linecap="butt"/>
<rect x="501.30" y="348.30" width="36.20" height="22.80" fill="none" stroke="#f03030" stroke-width="1.0"/>
<rect x="568.40" y="378.30" width="36.30" height="21.90" fill="none" stroke="#f03030" stroke-width="1.0"/>
<rect x="493.50" y="398.00" width="36.80" height="22.00" fill="none" stroke="#f03030" stroke-width="1.0"/>
<rect x="503.30" y="458.70" width="36.30" height="41.70" fill="none" stroke="#f03030" stroke-width="1.0"/>
<rect x="569.30" y="455.60" width="36.30" height="21.40" fill="none" stroke="#f03030" stroke-width="1.0"/>
<text x="504.40" y="386.60" font-size="12" text-anchor="start" fill="#000">230.46 <tspan font-size="7" dy="-5">o</tspan><tspan dy="5">C</tspan></text>
<text x="608.10" y="403.70" font-size="12" text-anchor="start" fill="#000">354.09 <tspan font-size="7" dy="-5">o</tspan><tspan dy="5">C</tspan></text>
<text x="496.80" y="437.20" font-size="12" text-anchor="start" fill="#000">217.12 <tspan font-size="7" dy="-5">o</tspan><tspan dy="5">C</tspan></text>
<text x="506.60" y="516.00" font-size="12" text-anchor="start" fill="#000">238.30 <tspan font-size="7" dy="-5">o</tspan><tspan dy="5">C</tspan></text>
<text x="574.20" y="496.70" font-size="12" text-anchor="start" fill="#000">357.42 <tspan font-size="7" dy="-5">o</tspan><tspan dy="5">C</tspan></text>
<line x1="623.80" y1="474.40" x2="652.30" y2="474.40" stroke="#000000" stroke-width="1.8" stroke-linecap="butt"/>
<text x="654.40" y="478.30" font-size="12" text-anchor="start" fill="#000">(a)</text>
<line x1="623.80" y1="489.00" x2="652.30" y2="489.00" stroke="#ff0000" stroke-width="1.8" stroke-linecap="butt"/>
<text x="654.40" y="492.90" font-size="12" text-anchor="start" fill="#000">(b)</text>
<line x1="623.80" y1="503.80" x2="652.30" y2="503.80" stroke="#00ff00" stroke-width="1.8" stroke-linecap="butt"/>
<text x="654.40" y="507.70" font-size="12" text-anchor="start" fill="#000">(c)</text>
<line x1="623.80" y1="518.60" x2="652.30" y2="518.60" stroke="#0000ff" stroke-width="1.8" stroke-linecap="butt"/>
<text x="654.40" y="522.50" font-size="12" text-anchor="start" fill="#000">(d)</text>
<line x1="415.29" y1="536.50" x2="415.29" y2="541.80" stroke="#000" stroke-width="1.5" stroke-linecap="butt"/>
<text x="415.29" y="553.80" font-size="14" text-anchor="middle" fill="#000">50</text>
<line x1="429.63" y1="536.50" x2="429.63" y2="539.80" stroke="#000" stroke-width="1.5" stroke-linecap="butt"/>
<line x1="443.98" y1="536.50" x2="443.98" y2="541.80" stroke="#000" stroke-width="1.5" stroke-linecap="butt"/>
<text x="443.98" y="553.80" font-size="14" text-anchor="middle" fill="#000">100</text>
<line x1="458.33" y1="536.50" x2="458.33" y2="539.80" stroke="#000" stroke-width="1.5" stroke-linecap="butt"/>
<line x1="472.67" y1="536.50" x2="472.67" y2="541.80" stroke="#000" stroke-width="1.5" stroke-linecap="butt"/>
<text x="472.67" y="553.80" font-size="14" text-anchor="middle" fill="#000">150</text>
<line x1="487.01" y1="536.50" x2="487.01" y2="539.80" stroke="#000" stroke-width="1.5" stroke-linecap="butt"/>
<line x1="501.36" y1="536.50" x2="501.36" y2="541.80" stroke="#000" stroke-width="1.5" stroke-linecap="butt"/>
<text x="501.36" y="553.80" font-size="14" text-anchor="middle" fill="#000">200</text>
<line x1="515.71" y1="536.50" x2="515.71" y2="539.80" stroke="#000" stroke-width="1.5" stroke-linecap="butt"/>
<line x1="530.05" y1="536.50" x2="530.05" y2="541.80" stroke="#000" stroke-width="1.5" stroke-linecap="butt"/>
<text x="530.05" y="553.80" font-size="14" text-anchor="middle" fill="#000">250</text>
<line x1="544.39" y1="536.50" x2="544.39" y2="539.80" stroke="#000" stroke-width="1.5" stroke-linecap="butt"/>
<line x1="558.74" y1="536.50" x2="558.74" y2="541.80" stroke="#000" stroke-width="1.5" stroke-linecap="butt"/>
<text x="558.74" y="553.80" font-size="14" text-anchor="middle" fill="#000">300</text>
<line x1="573.09" y1="536.50" x2="573.09" y2="539.80" stroke="#000" stroke-width="1.5" stroke-linecap="butt"/>
<line x1="587.43" y1="536.50" x2="587.43" y2="541.80" stroke="#000" stroke-width="1.5" stroke-linecap="butt"/>
<text x="587.43" y="553.80" font-size="14" text-anchor="middle" fill="#000">350</text>
<line x1="601.77" y1="536.50" x2="601.77" y2="539.80" stroke="#000" stroke-width="1.5" stroke-linecap="butt"/>
<line x1="616.12" y1="536.50" x2="616.12" y2="541.80" stroke="#000" stroke-width="1.5" stroke-linecap="butt"/>
<text x="616.12" y="553.80" font-size="14" text-anchor="middle" fill="#000">400</text>
<line x1="630.47" y1="536.50" x2="630.47" y2="539.80" stroke="#000" stroke-width="1.5" stroke-linecap="butt"/>
<line x1="644.81" y1="536.50" x2="644.81" y2="541.80" stroke="#000" stroke-width="1.5" stroke-linecap="butt"/>
<text x="644.81" y="553.80" font-size="14" text-anchor="middle" fill="#000">450</text>
<line x1="659.15" y1="536.50" x2="659.15" y2="539.80" stroke="#000" stroke-width="1.5" stroke-linecap="butt"/>
<line x1="673.50" y1="536.50" x2="673.50" y2="541.80" stroke="#000" stroke-width="1.5" stroke-linecap="butt"/>
<text x="673.50" y="553.80" font-size="14" text-anchor="middle" fill="#000">500</text>
<text x="540.70" y="579.70" font-size="14" font-weight="bold" text-anchor="middle" fill="#000">Temperature (<tspan font-size="9" dy="-7">o</tspan><tspan dy="7">C)</tspan></text>
<text x="371.20" y="420.10" font-size="14" font-weight="bold" text-anchor="middle" fill="#000" transform="rotate(-90 371.2 420.1)">Heat flow (a.u.)</text>
</svg>
</body></html>
